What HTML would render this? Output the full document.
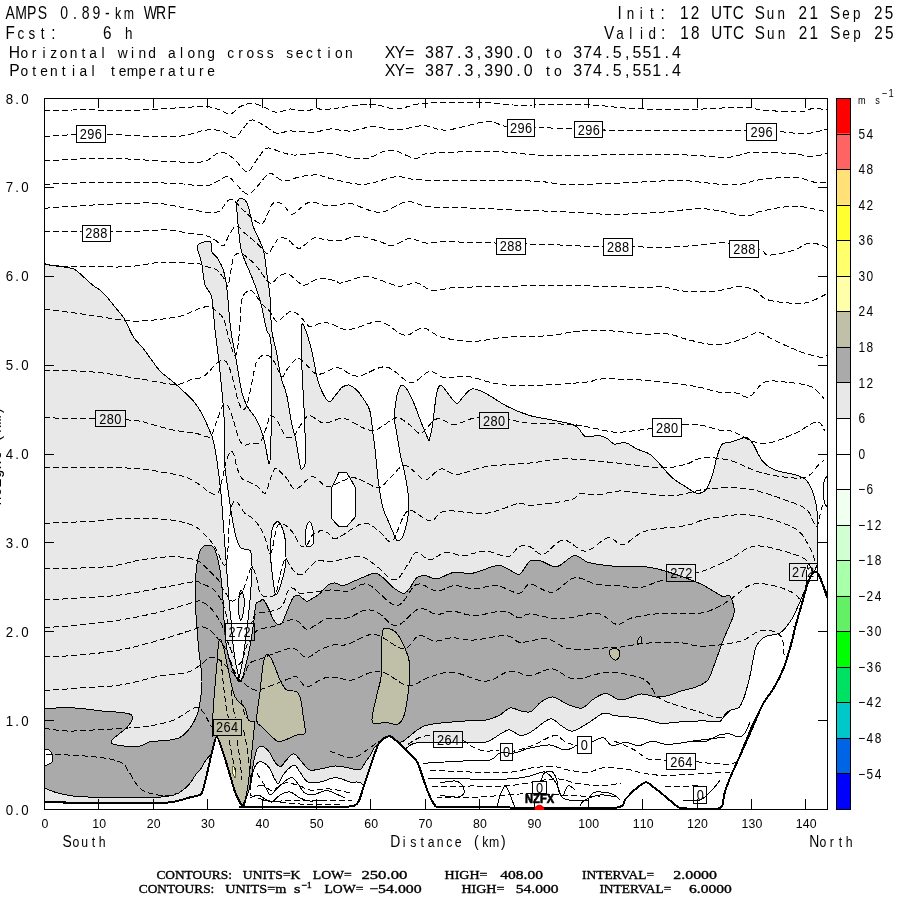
<!DOCTYPE html><html><head><meta charset="utf-8"><title>AMPS 0.89-km WRF cross section</title>
<style>html,body{margin:0;padding:0;background:#fff;}svg{display:block;}.m{font-family:"Liberation Mono",monospace;fill:#000;}.t{font-family:"Liberation Sans",sans-serif;fill:#000;}.w{stroke:#fff;stroke-width:0.45px;}.s{font-family:"Liberation Serif",serif;fill:#000;stroke:#000;stroke-width:0.35px;}</style></head><body>
<svg width="900" height="900" viewBox="0 0 900 900">
<rect width="900" height="900" fill="#fff"/>
<defs><clipPath id="pc"><rect x="44" y="98" width="784" height="711"/></clipPath>
<mask id="lm" maskUnits="userSpaceOnUse" x="0" y="0" width="900" height="900"><rect width="900" height="900" fill="#fff"/>
<rect x="76" y="125" width="29.7" height="17.5" fill="#000"/>
<rect x="506.7" y="119" width="28.6" height="17.7" fill="#000"/>
<rect x="574.3" y="120.7" width="29" height="17.6" fill="#000"/>
<rect x="746.4" y="122.6" width="30.3" height="17.9" fill="#000"/>
<rect x="81.7" y="225" width="29" height="16.7" fill="#000"/>
<rect x="496" y="237.7" width="29.7" height="17.3" fill="#000"/>
<rect x="603.3" y="238.3" width="29.4" height="17.7" fill="#000"/>
<rect x="729.3" y="240" width="30" height="18.3" fill="#000"/>
<rect x="95.1" y="410" width="30.5" height="17.3" fill="#000"/>
<rect x="479.3" y="411.6" width="29.6" height="17.7" fill="#000"/>
<rect x="652.2" y="418.4" width="29.6" height="18.3" fill="#000"/>
<rect x="224.7" y="623.3" width="29.8" height="17.9" fill="#000"/>
<rect x="666.2" y="564" width="30" height="18.2" fill="#000"/>
<rect x="788.7" y="563.3" width="28.9" height="17.8" fill="#000"/>
<rect x="212.5" y="718.5" width="29.2" height="17.5" fill="#000"/>
<rect x="433.3" y="730.7" width="29.4" height="17.5" fill="#000"/>
<rect x="666.2" y="752.7" width="30" height="17.3" fill="#000"/>
<rect x="500" y="742.7" width="13.3" height="18" fill="#000"/>
<rect x="576.7" y="736.2" width="15.1" height="18.2" fill="#000"/>
<rect x="532.2" y="781" width="14.5" height="13.4" fill="#000"/>
<rect x="693.3" y="786.2" width="14" height="18.2" fill="#000"/>
</mask></defs>
<g transform="scale(0.78,1)"><text class="t" x="13.08 26.90 40.72 54.54" y="19" font-size="18" text-anchor="middle">AMPS</text><text class="t" x="82.18 96.00 109.82 123.64 137.46 151.28 165.10" y="19" font-size="18" text-anchor="middle"><tspan font-size="18">0.89-</tspan><tspan font-size="15.8">km</tspan></text><text class="t" x="192.74 206.56 220.38" y="19" font-size="18" text-anchor="middle">WRF</text></g>
<g transform="scale(0.85,1)"><text class="t" x="12.00 24.68 37.36 50.05 62.73" y="39" font-size="18" text-anchor="middle"><tspan font-size="18">F</tspan><tspan font-size="15.8">cst</tspan><tspan font-size="18">:</tspan></text><text class="t" x="126.14" y="39" font-size="18" text-anchor="middle">6</text><text class="t" x="151.51" y="39" font-size="18" text-anchor="middle"><tspan font-size="15.8">h</tspan></text></g>
<g transform="scale(0.9,1)"><text class="t" x="16.11 27.03 37.96 48.88 59.80 70.72 81.64 92.57 103.49 114.41" y="58.3" font-size="17.4" text-anchor="middle"><tspan font-size="17.4">H</tspan><tspan font-size="15.3">orizontal</tspan></text><text class="t" x="136.26 147.18 158.10 169.02" y="58.3" font-size="17.4" text-anchor="middle"><tspan font-size="15.3">wind</tspan></text><text class="t" x="190.87 201.79 212.71 223.63 234.56" y="58.3" font-size="17.4" text-anchor="middle"><tspan font-size="15.3">along</tspan></text><text class="t" x="256.40 267.32 278.24 289.17 300.09" y="58.3" font-size="17.4" text-anchor="middle"><tspan font-size="15.3">cross</tspan></text><text class="t" x="321.93 332.86 343.78 354.70 365.62 376.54 387.47" y="58.3" font-size="17.4" text-anchor="middle"><tspan font-size="15.3">section</tspan></text></g>
<g transform="scale(0.9,1)"><text class="t" x="16.11 27.03 37.96 48.88 59.80 70.72 81.64 92.57 103.49" y="76.3" font-size="17.4" text-anchor="middle"><tspan font-size="17.4">P</tspan><tspan font-size="15.3">otential</tspan></text><text class="t" x="125.33 136.26 147.18 158.10 169.02 179.94 190.87 201.79 212.71 223.63 234.56" y="76.3" font-size="17.4" text-anchor="middle"><tspan font-size="15.3">temperature</tspan></text></g>
<g transform="scale(0.92,1)"><text class="t" x="423.91 434.65 445.39" y="58.3" font-size="17.4" text-anchor="middle">XY=</text><text class="t" x="466.87 477.61 488.35 499.09 509.83 520.57 531.30 542.04 552.78 563.52 574.26" y="58.3" font-size="17.4" text-anchor="middle">387.3,390.0</text><text class="t" x="595.74 606.48" y="58.3" font-size="17.4" text-anchor="middle"><tspan font-size="15.3">to</tspan></text><text class="t" x="627.96 638.70 649.43 660.17 670.91 681.65 692.39 703.13 713.87 724.61 735.35" y="58.3" font-size="17.4" text-anchor="middle">374.5,551.4</text></g>
<g transform="scale(0.92,1)"><text class="t" x="423.91 434.65 445.39" y="76.3" font-size="17.4" text-anchor="middle">XY=</text><text class="t" x="466.87 477.61 488.35 499.09 509.83 520.57 531.30 542.04 552.78 563.52 574.26" y="76.3" font-size="17.4" text-anchor="middle">387.3,390.0</text><text class="t" x="595.74 606.48" y="76.3" font-size="17.4" text-anchor="middle"><tspan font-size="15.3">to</tspan></text><text class="t" x="627.96 638.70 649.43 660.17 670.91 681.65 692.39 703.13 713.87 724.61 735.35" y="76.3" font-size="17.4" text-anchor="middle">374.5,551.4</text></g>
<g transform="scale(0.85,1)"><text class="t" x="728.94 741.62 754.31 766.99 779.67" y="19" font-size="18" text-anchor="middle"><tspan font-size="18">I</tspan><tspan font-size="15.8">nit</tspan><tspan font-size="18">:</tspan></text><text class="t" x="805.04 817.72" y="19" font-size="18" text-anchor="middle">12</text><text class="t" x="843.08 855.76 868.45" y="19" font-size="18" text-anchor="middle">UTC</text><text class="t" x="893.81 906.49 919.18" y="19" font-size="18" text-anchor="middle"><tspan font-size="18">S</tspan><tspan font-size="15.8">un</tspan></text><text class="t" x="944.54 957.22" y="19" font-size="18" text-anchor="middle">21</text><text class="t" x="982.59 995.27 1007.95" y="19" font-size="18" text-anchor="middle"><tspan font-size="18">S</tspan><tspan font-size="15.8">ep</tspan></text><text class="t" x="1033.32 1046.00" y="19" font-size="18" text-anchor="middle">25</text></g>
<g transform="scale(0.85,1)"><text class="t" x="716.71 729.38 742.05 754.72 767.39 780.06" y="39" font-size="18" text-anchor="middle"><tspan font-size="18">V</tspan><tspan font-size="15.8">alid</tspan><tspan font-size="18">:</tspan></text><text class="t" x="805.40 818.07" y="39" font-size="18" text-anchor="middle">18</text><text class="t" x="843.41 856.08 868.75" y="39" font-size="18" text-anchor="middle">UTC</text><text class="t" x="894.09 906.76 919.44" y="39" font-size="18" text-anchor="middle"><tspan font-size="18">S</tspan><tspan font-size="15.8">un</tspan></text><text class="t" x="944.78 957.45" y="39" font-size="18" text-anchor="middle">21</text><text class="t" x="982.79 995.46 1008.13" y="39" font-size="18" text-anchor="middle"><tspan font-size="18">S</tspan><tspan font-size="15.8">ep</tspan></text><text class="t" x="1033.47 1046.14" y="39" font-size="18" text-anchor="middle">25</text></g>
<g clip-path="url(#pc)" shape-rendering="crispEdges">
<path d="M44 261 C44 261 42.6 263.3 46.7 264.4 C50.9 265.5 64.1 266.9 68.9 267.8 C73.7 268.7 71.5 267 75.6 270 C79.7 273 89.2 282.3 93.3 285.6 C97.4 288.9 97.8 288.1 100 290 C102.2 291.9 104.1 293.7 106.7 296.7 C109.3 299.7 112.6 304.1 115.6 307.8 C118.5 311.5 121.5 314.1 124.4 318.9 C127.4 323.7 130 331.5 133.3 336.7 C136.6 341.9 140 344.3 144.4 350 C148.8 355.7 155.2 365.7 160 371 C164.8 376.3 167.8 377 173.3 382 C178.9 387 188.5 395.6 193.3 401 C198.1 406.4 199.5 409.6 202.2 414.4 C204.9 419.2 207.5 425.6 209.3 430 C211.2 434.4 212 435.1 213.3 440.7 C214.6 446.2 216 454 217.3 463.3 C218.6 472.6 220.4 487.2 221.3 496.7 C222.2 506.1 222.2 509.4 223 520 C223.8 530.5 225 546.7 226 560 C227 573.3 228.2 590 229 600 C229.8 610 230.3 612.7 231 620 C231.7 627.3 232.2 637 233 644 C233.8 651 234.5 656.3 235.5 662 C236.5 667.7 239 678 239 678 C239 678 241 669.7 242 664 C243 658.3 244 651.3 245 644 C246 636.7 247.2 627.3 248 620 C248.8 612.7 249.3 608.3 250 600 C250.7 591.7 251.8 577.3 252 570 C252.2 562.7 251.8 559.2 251.5 556 C251.2 552.8 251.2 551.7 250 550.5 C248.8 549.3 245.7 549.6 244 549 C242.3 548.4 241.3 548.8 240 546.7 C238.7 544.7 237.3 541.7 236 536.7 C234.7 531.7 233.3 524.5 232 516.7 C230.7 508.9 229.2 498.9 228 490 C226.8 481.1 225.2 473.3 224.7 463.3 C224.1 453.3 225 440.1 224.7 430 C224.4 419.9 223.9 414.3 223 403 C222.1 391.7 220.3 374.2 219 362 C217.7 349.8 216.2 340.8 215 330 C213.8 319.2 213.4 304.5 211.7 297 C210 289.5 206.7 290.6 205 285 C203.3 279.4 202.9 269.4 201.7 263.3 C200.4 257.2 197.9 251.5 197.5 248.3 C197.1 245.1 197.8 245.1 199 244 C200.2 242.9 203 242 205 241.7 C207 241.4 209.7 240.3 210.8 242 C211.9 243.7 210.6 249 211.7 251.7 C212.8 254.4 215.6 255.2 217.5 258.3 C219.4 261.4 221.8 265.3 223.3 270 C224.8 274.7 225.4 276.7 226.7 286.7 C227.9 296.7 229.4 318.9 230.8 330 C232.2 341.1 233.2 342.7 235 353 C236.8 363.3 239.6 382.8 241.7 391.7 C243.8 400.6 245 402 247.5 406.7 C250 411.4 254.1 415 256.7 420 C259.3 425 261.4 429.8 263.3 436.7 C265.2 443.6 268.3 461.7 268.3 461.7 C268.3 461.7 269.9 469.7 270.5 453 C271.1 436.3 271.8 381.1 271.7 361.7 C271.6 342.3 270.8 342 270 336.7 C269.2 331.4 268.4 336.1 266.7 330 C265 323.9 262.5 308.9 260 300 C257.5 291.1 254.8 284.8 251.7 276.7 C248.6 268.6 243.9 260 241.7 251.7 C239.5 243.4 239.1 234.5 238.3 226.7 C237.5 218.9 236.8 209.4 236.7 205 C236.6 200.6 237.4 201.6 238 200.5 C238.6 199.4 238.8 198.8 240 198.7 C241.2 198.6 243.6 198.7 245 200 C246.4 201.3 246.9 202.2 248.3 206.7 C249.7 211.1 250.8 219.5 253.3 226.7 C255.8 233.9 261.1 242.2 263.3 250 C265.5 257.8 265.6 265.5 266.7 273.3 C267.8 281.1 269.2 287.2 270 296.7 C270.8 306.1 270.6 320.6 271.7 330 C272.8 339.4 275.2 345.2 276.7 353 C278.2 360.8 279.1 369.7 280.8 376.7 C282.5 383.7 284.9 387.2 286.7 395 C288.5 402.8 290.1 415.7 291.7 423.3 C293.2 430.9 294.6 433.5 296 440.7 C297.4 447.9 299.2 462.1 300.3 466.7 C301.4 471.3 302.5 468.1 302.5 468.1 C302.5 468.1 305 468.5 305.4 461 C305.8 453.5 305.2 436.8 304.7 423.3 C304.2 409.8 303.1 392.2 302.5 380 C301.9 367.8 301.4 358.3 301.2 350 C301 341.7 301.1 334.2 301.2 330 C301.3 325.8 301.3 325.6 301.8 324.9 C302.3 324.2 302.4 322.1 304 326 C305.6 329.9 308.8 339.2 311.1 348.2 C313.4 357.2 315.6 372.3 317.7 380 C319.8 387.7 321.5 390.8 323.4 394.4 C325.3 398 327.3 401.4 329.2 401.7 C331.1 401.9 333.4 397.7 335 395.9 C336.6 394.1 337.7 392.4 338.9 391 C340.1 389.6 340.6 388.2 342.2 387.2 C343.8 386.2 346.3 384.5 348.7 385 C351.1 385.5 354.4 388.1 356.7 390.1 C359 392.2 360.2 393.9 362.4 397.3 C364.6 400.7 368 404.8 369.7 410.3 C371.4 415.9 371.7 423.6 372.6 430.6 C373.6 437.6 374.4 443.8 375.4 452.2 C376.3 460.6 377.1 472 378.3 481.1 C379.5 490.2 381.1 500.6 382.7 507.1 C384.3 513.6 385.5 514.4 387.8 520 C390.1 525.6 396.7 541 396.7 541 C396.7 541 401.3 541.3 403.3 535.6 C405.3 529.9 408.5 516.3 408.9 506.7 C409.3 497.1 406.9 485.9 405.6 477.8 C404.3 469.7 402.5 465.3 401 457.8 C399.5 450.3 397.8 439.7 396.7 433 C395.6 426.3 394.4 422.4 394.2 417.6 C394 412.8 395.1 408.2 395.6 404.4 C396.1 400.6 396.2 398.1 397.1 395 C398 391.9 399.4 386.6 401 385.6 C402.6 384.6 404.5 385.8 406.7 388.9 C408.9 392 412 398.9 414.4 404.4 C416.8 409.9 418.6 415.9 421 422 C423.4 428.1 428.9 441 428.9 441 C428.9 441 430.9 434.6 432.2 426.7 C433.5 418.8 435.2 400.1 436.7 393.3 C438.2 386.5 439.1 385.6 441 385.6 C442.9 385.6 445.2 390.4 447.8 393.3 C450.4 396.2 454.1 402.7 456.7 403.3 C459.3 403.9 460.7 399.1 463.3 396.7 C465.9 394.3 468.5 389.5 472.2 388.9 C475.9 388.3 479.7 390.3 485.6 393.3 C491.5 396.3 500.4 403 507.8 406.7 C515.2 410.4 522.6 413.4 530 415.6 C537.4 417.8 545.2 418.5 552.2 420 C559.2 421.5 567.8 422.9 572.2 424.4 C576.7 425.9 576.7 426.8 578.9 428.9 C581.1 430.9 582.3 435.6 585.6 436.7 C588.9 437.8 595.2 435.2 598.9 435.6 C602.6 436 605.2 437.5 607.8 438.9 C610.4 440.3 611.4 443.4 614.4 444 C617.4 444.6 621.9 441.9 625.6 442.7 C629.3 443.5 632.6 446.9 636.7 448.9 C640.8 450.8 645.9 451.6 650 454.4 C654.1 457.2 657.4 461.7 661.1 465.6 C664.8 469.5 668.1 474.3 672.2 477.8 C676.3 481.3 681.5 484.1 685.6 486.7 C689.7 489.3 693.4 492.8 696.7 493.3 C700 493.9 703 492.9 705.6 490 C708.2 487.1 710.4 481 712.2 475.6 C714.1 470.2 715.2 462.8 716.7 457.8 C718.2 452.8 719.6 448.1 721.1 445.6 C722.6 443.1 724 443.3 725.6 442.7 C727.2 442.1 728.5 442.6 731 442 C733.5 441.4 737.8 439.7 740.4 438.9 C743 438.1 744.6 436.5 746.7 437.3 C748.8 438.1 750.3 439.7 752.9 443.6 C755.5 447.5 758.6 456.3 762.2 460.7 C765.8 465.1 769.1 467.6 774.7 470 C780.3 472.4 790.8 473.3 796 475 C801.2 476.7 803.3 477.5 806 480 C808.7 482.5 810.3 486 812 490 C813.7 494 815.1 499 816 504 C816.9 509 817.3 510 817.6 520 C817.9 530 817.6 564 817.6 564 C817.6 564 815.5 569 813.6 572.5 C811.7 576 807.3 545.1 806 585 C804.7 624.9 806 812 806 812 C806 812 44 812 44 812 C44 812 44 261 44 261 Z" fill="#e8e8e8" stroke="#000" stroke-width="1"/>
<path d="M44 708.7 C44 708.7 62.3 707.4 72 707.8 C81.7 708.2 93.3 710.1 102.2 711 C111.1 711.9 120.3 712 125.3 713 C130.3 714 132.1 714.3 132.4 716.7 C132.7 719.1 130.7 723.1 127.1 727.3 C123.5 731.4 111.7 738.5 111.1 741.6 C110.5 744.7 118.8 745.3 123.6 746 C128.3 746.7 135.2 746.7 139.6 746 C144 745.3 146.1 742.5 150.2 741.6 C154.3 740.7 159.7 741.3 164.4 740.7 C169.2 740.1 174.8 739.6 178.7 738 C182.6 736.4 184.9 734 187.6 731 C190.3 728 192.8 724.1 194.7 720.2 C196.6 716.3 197.9 714.3 199.1 707.8 C200.3 701.3 202.1 691.4 202 681 C201.9 670.6 199.4 657.4 198.4 645.6 C197.4 633.8 196.2 621.9 195.8 610 C195.4 598.1 195.2 583.9 195.8 574.4 C196.4 564.9 198.1 557.6 199.3 553 C200.5 548.4 201.8 548.3 203 547 C204.2 545.7 204.6 544.9 206.4 545.1 C208.2 545.3 211.7 543.9 214 548 C216.3 552.1 218.5 561.3 220 570 C221.5 578.7 222.3 591.7 223 600 C223.7 608.3 223.7 614.7 224 620 C224.3 625.3 224.5 627 225 632 C225.5 637 225.8 644 227 650 C228.2 656 230.3 663.2 232 668 C233.7 672.8 235.7 676.7 237 679 C238.3 681.3 240 682 240 682 C240 682 241.8 679.7 243 676 C244.2 672.3 245.8 665.3 247 660 C248.2 654.7 249.3 650.7 250.5 644 C251.7 637.3 253.1 626.7 254 620 C254.9 613.3 255 607.1 256 604 C257 600.9 259 601.9 260.2 601.2 C261.4 600.5 262 598.6 263.3 599.6 C264.6 600.6 266.4 604.3 268 607.4 C269.6 610.5 271.1 615.4 272.7 618.3 C274.3 621.1 275.8 623.7 277.4 624.5 C278.9 625.3 280.4 625.1 282 623 C283.6 620.9 284.9 616.2 286.7 612 C288.5 607.8 291.1 600.8 292.9 598 C294.7 595.2 296 595 297.6 595 C299.2 595 300.7 597 302.3 598 C303.9 599 305.2 601.2 307 601.2 C308.8 601.2 311 599.3 313.2 598 C315.4 596.7 317.5 595.6 320 593.4 C322.5 591.2 325.5 586.7 328 585 C330.5 583.3 332.4 582.9 335 583 C337.6 583.1 339.7 586.1 343.3 585.6 C346.9 585.1 351.5 582 356.7 580 C361.9 578 370 573.7 374.4 573.3 C378.8 572.9 380.3 575.6 383.3 577.8 C386.3 580 388.9 584.1 392.2 586.7 C395.5 589.3 400.3 593.1 403.3 593.3 C406.3 593.5 407.8 590.4 410 587.8 C412.2 585.2 414.1 579.8 416.7 577.8 C419.3 575.8 422.3 575.4 425.6 575.6 C428.9 575.8 431.9 579.5 436.7 578.9 C441.5 578.3 448.5 573.1 454.4 572.2 C460.3 571.3 465.1 574.4 472.2 573.3 C479.2 572.2 490.8 566.3 496.7 565.6 C502.6 564.9 504.1 567.4 507.8 568.9 C511.5 570.4 515.9 574.8 518.9 574.4 C521.9 574 523.8 568.9 525.6 566.7 C527.5 564.5 527.4 562 530 561.1 C532.6 560.2 536.6 560.2 541.1 561.1 C545.6 562 551.2 567.6 556.7 566.7 C562.2 565.8 569.2 556.4 574.4 555.6 C579.6 554.9 582.2 560.5 587.8 562.2 C593.4 563.9 601.1 564.9 607.8 565.6 C614.5 566.4 621.5 566.5 627.8 566.7 C634.1 566.9 639.3 566 645.6 566.7 C651.9 567.4 657.1 568.5 665.6 571.1 C674.1 573.7 689.7 579.4 696.7 582.2 C703.7 585 704.1 585.8 707.8 587.8 C711.5 589.8 716.3 592.9 718.9 594.4 C721.5 595.9 721.8 596.5 723.3 596.7 C724.8 596.9 726.5 595.5 727.8 595.6 C729.1 595.8 729.9 594.9 731 597.6 C732.1 600.3 734.4 607.1 734.2 611.6 C734 616.1 731.8 619.7 730 624.4 C728.2 629.1 725.9 633.3 723.3 640 C720.7 646.7 717 657.7 714.4 664.4 C711.8 671.1 710.8 676.3 707.8 680 C704.8 683.7 701.2 684.9 696.7 686.7 C692.2 688.6 685.9 689.6 681.1 691.1 C676.3 692.6 672 694.6 667.8 695.6 C663.6 696.6 660.5 697.3 656 697 C651.5 696.7 646.8 693.5 641 694 C635.2 694.5 626.8 700.1 621 700 C615.2 699.9 610.7 693.6 606 693.5 C601.3 693.4 597 697.1 593 699.5 C589 701.9 586.2 707.2 582 708 C577.8 708.8 572.8 706.3 568 704.5 C563.2 702.7 557.5 697.4 553 697 C548.5 696.6 544.7 699.6 541 702 C537.3 704.4 534.3 710 531 711.5 C527.7 713 524.5 711.6 521 711 C517.5 710.4 513.7 707.2 510 708 C506.3 708.8 503 713.6 498.9 715.6 C494.8 717.6 491.5 719.1 485.6 720 C479.7 720.9 472.6 720.4 463.3 721.1 C454 721.8 437.4 723.1 430 724.4 C422.6 725.7 421.5 727.6 418.9 728.9 C416.3 730.2 417 730.2 414.4 732.2 C411.8 734.2 406.4 739 403.3 741.1 C400.2 743.2 397.9 741.9 396 745 C394.1 748.1 394.3 757.5 392 760 C389.7 762.5 384.6 762.4 382 760 C379.4 757.6 378.7 746.3 376.7 745.6 C374.7 744.9 371.8 753.2 370 755.9 C368.2 758.6 367.4 759.4 365.7 761.7 C364 764 362.5 768.5 359.9 769.6 C357.2 770.7 353.9 768.8 349.8 768.2 C345.7 767.6 340.2 765.9 335.4 766 C330.6 766.1 325 768.2 320.9 768.9 C316.8 769.6 313.2 770.5 310.8 770.3 C308.4 770.1 308.4 769.4 306.5 767.5 C304.6 765.6 301.4 761.1 299.2 758.8 C297 756.5 295.7 753.5 293.5 753.7 C291.3 753.9 288.4 758 286.2 760.2 C284 762.4 282.4 766.5 280.5 766.7 C278.6 767 276.6 764.2 274.7 761.7 C272.8 759.2 270.9 754.1 268.9 751.6 C266.8 749.1 264.3 747 262.4 746.5 C260.5 746 258.7 746.5 257.3 748.7 C255.9 751 255.1 754.8 254 760 C252.9 765.2 252.2 773.3 251 780 C249.8 786.7 248.2 795.7 247 800 C245.8 804.3 244 806 244 806 C244 806 234.7 788.7 230 778 C225.3 767.3 219.1 746.1 216 742 C212.9 737.9 213.4 750.3 211.7 753.3 C210 756.3 207.9 757.2 206 760 C204.1 762.8 201.6 767.7 200 770 C198.4 772.3 198.2 771.2 196.4 773.6 C194.6 776 192.2 781 189.3 784.2 C186.4 787.4 182.2 791 178.7 793 C175.1 795 173.3 795.5 168 796.3 C162.7 797.1 156.2 797.4 146.7 797.6 C137.2 797.8 122.8 797.8 111 797.6 C99.2 797.4 84.5 797.1 75.6 796.3 C66.7 795.5 63.1 794.4 57.8 793 C52.5 791.6 44 787.8 44 787.8 C44 787.8 44 708.7 44 708.7 Z" fill="#aaaaaa" stroke="#000" stroke-width="1"/>
<path d="M219.2 640 C218.1 643.3 217.7 655.4 216.7 666.7 C215.7 678 214 696.3 213.3 708 C212.6 719.7 212.5 736.7 212.5 736.7 C212.5 736.7 214.9 733.9 216.7 736.7 C218.5 739.5 221.1 746.9 223.3 753.3 C225.5 759.7 228.1 768.6 230 775 C231.9 781.4 233.1 786.7 235 791.7 C236.9 796.7 241.7 805 241.7 805 C241.7 805 243.9 803.7 245 800 C246.1 796.3 247.2 790.8 248.3 783 C249.4 775.2 250.7 762.2 251.7 753 C252.7 743.8 253.8 733.2 254.2 728 C254.6 722.8 255.2 723 254.2 721.7 C253.2 720.4 249.8 722.3 248.3 720 C246.8 717.7 247.2 711.9 245 708 C242.8 704.1 237.8 703 235 696.7 C232.2 690.4 230.2 678.3 228.3 670 C226.4 661.7 224.8 651.7 223.3 646.7 C221.8 641.7 220.3 636.7 219.2 640 Z" fill="#c0c0a8" stroke="#000" stroke-width="1"/>
<path d="M267.5 654 C265.8 654 264.6 656.7 263.3 663 C262.1 669.3 261.1 682.2 260 691.7 C258.9 701.2 256.4 714.2 256.7 720 C257 725.8 258.9 723.7 261.7 726.7 C264.5 729.7 270.5 735.5 273.3 738 C276.1 740.5 276.4 741.4 278.3 741.7 C280.2 742 281.9 741.1 285 740 C288.1 738.9 293.4 736.2 296.7 735 C300 733.8 303.9 736.3 305 733 C306.1 729.7 303.7 720.5 303 715 C302.3 709.5 301.9 703.9 300.8 700 C299.8 696.1 299.1 693.4 296.7 691.7 C294.3 690 289.5 692 286.7 690 C283.9 688 282.2 684.5 280 680 C277.8 675.5 275.4 667.3 273.3 663 C271.2 658.7 269.2 654 267.5 654 Z" fill="#c0c0a8" stroke="#000" stroke-width="1"/>
<path d="M386.7 628.9 C384.7 629.3 383 625.9 382.2 633.3 C381.4 640.7 382.5 662.9 381.6 673.3 C380.7 683.7 378.3 687.5 376.7 695.6 C375.1 703.8 370.7 717.8 372.2 722.2 C373.7 726.6 381.5 721.8 385.6 722.2 C389.7 722.6 393.8 725.1 396.7 724.4 C399.6 723.7 401.4 722.6 403.3 717.8 C405.2 713 406.7 703.8 407.8 695.6 C408.9 687.5 410 675.6 410 668.9 C410 662.2 409.3 660.4 407.8 655.6 C406.3 650.8 403.2 644.1 401 640 C398.8 635.9 396.8 633 394.4 631.1 C392 629.2 388.7 628.5 386.7 628.9 Z" fill="#c0c0a8" stroke="#000" stroke-width="1"/>
<path d="M612 649 C613.5 648.6 616.7 648.8 618 649.5 C619.3 650.2 619.9 651.6 620 653 C620.1 654.4 619.3 656.8 618.5 658 C617.7 659.2 616.2 660.2 615 660 C613.8 659.8 612 658.3 611 657 C610 655.7 608.8 653.3 609 652 C609.2 650.7 610.5 649.4 612 649 Z" fill="#c0c0a8" stroke="#000" stroke-width="1"/>
<path d="M637 643 C636.8 641.9 639.8 636.5 640.5 636.5 C641.2 636.5 642.1 641.9 641.5 643 C640.9 644.1 637.2 644.1 637 643 Z" fill="#c0c0a8" stroke="#000" stroke-width="1"/>
<path d="M233 766 C233.5 766 234.6 768 235 770 C235.4 772 235.8 777.2 235.5 778 C235.2 778.8 234.1 776.3 233.5 775 C232.9 773.7 232.1 771.5 232 770 C231.9 768.5 232.5 766 233 766 Z" fill="#ffffaa" stroke="#000" stroke-width="0.6"/>
<path d="M276.6 521.8 C275.4 522.5 273.5 525 272.5 528 C271.5 531 271.2 535.6 270.8 540 C270.4 544.4 270.3 550 270.4 554.5 C270.5 559 271.1 563.1 271.5 567 C271.9 570.9 272.2 574 272.7 577.8 C273.2 581.6 274 587.1 274.5 590 C275 592.9 275.1 595 275.8 595 C276.5 595 277.9 592.5 278.9 590.3 C279.8 588.1 280.7 584.6 281.5 582 C282.3 579.4 282.9 578 283.6 574.7 C284.3 571.4 285.5 566.4 285.9 562.3 C286.3 558.2 285.9 553.9 285.8 550 C285.7 546.1 285.6 542.2 285.1 538.9 C284.6 535.6 283.9 532.6 283 530 C282.1 527.4 281.1 524.9 280 523.5 C278.9 522.1 277.9 521 276.6 521.8 Z" fill="#fff" stroke="#000" stroke-width="1"/>
<path d="M309.7 521.8 C308.9 521.6 307.7 522.8 307 525 C306.3 527.2 305.6 531.7 305.4 535 C305.2 538.3 305.4 543 306 545 C306.6 547 307.8 546.9 309 546.7 C310.2 546.5 312.2 546 313 544 C313.8 542 314.1 538 313.9 535 C313.7 532 312.7 528.2 312 526 C311.3 523.8 310.5 522 309.7 521.8 Z" fill="#fff" stroke="#000" stroke-width="1"/>
<path d="M339 472.5 C339 472.5 346.7 472.5 346.7 472.5 C346.7 472.5 355.6 487.8 355.6 487.8 C355.6 487.8 355.6 516.5 355.6 516.5 C355.6 516.5 346.7 526.7 346.7 526.7 C346.7 526.7 339 526.7 339 526.7 C339 526.7 331.8 518.9 331.8 518.9 C331.8 518.9 331.8 487.8 331.8 487.8 C331.8 487.8 339 472.5 339 472.5 Z" fill="#fff" stroke="#000" stroke-width="1"/>
<path d="M244 806 C244 806 245.9 799.5 247 796 C248.1 792.5 249.5 789 250.5 785 C251.5 781 252 775.5 253 772 C254 768.5 255.1 765.7 256.5 764 C257.9 762.3 259.6 761.1 261.7 761.7 C263.8 762.3 266.7 764.6 268.9 767.5 C271.1 770.4 273.1 776.4 274.7 779 C276.3 781.6 276.9 784.1 278.3 783.4 C279.8 782.7 281.6 777.2 283.4 774.7 C285.2 772.2 287.2 769.8 289.1 768.2 C291 766.6 293 764.5 294.9 765.3 C296.8 766.1 298.5 770.4 300.7 773.2 C302.9 776 304.5 780.5 307.9 781.9 C311.3 783.3 316.3 782.6 320.9 781.9 C325.5 781.2 330.6 777.6 335.4 777.6 C340.2 777.6 345.2 780.7 349.8 781.9 C354.4 783.1 360.1 779.8 362.8 784.8 C365.5 789.8 366 812 366 812 C366 812 244 812 244 812 C244 812 244 806 244 806 Z" fill="#fff" stroke="#000" stroke-width="1"/>
<path d="M405.6 748.9 C405.6 748.9 410.3 744.4 414.4 743.3 C418.5 742.2 421.9 742.4 430 742.2 C438.1 742 454 742.2 463.3 742.2 C472.6 742.2 478.9 743.9 485.6 742.2 C492.3 740.5 499.2 734.2 503.3 732.2 C507.4 730.2 507 729.4 510 730 C513 730.6 517.4 735.4 521.1 735.6 C524.8 735.8 527.4 733.9 532.2 731.1 C537 728.3 545.2 719.8 550 718.9 C554.8 718 557.4 723.6 561.1 725.6 C564.8 727.6 567.8 731.5 572.2 731.1 C576.7 730.7 582.6 726.3 587.8 723.3 C593 720.3 598.9 714.6 603.3 713.3 C607.7 712 610.7 715 614.4 715.6 C618.1 716.2 620.8 716.2 625.6 716.7 C630.4 717.2 637.4 717.8 643.3 718.9 C649.2 720 655.5 722.8 661.1 723.3 C666.7 723.8 671.2 722.6 676.7 722.2 C682.2 721.8 688.9 721.3 694.4 721.1 C699.9 720.9 705.9 721 710 721.1 C714.1 721.2 717 722.2 719.2 721.7 C721.4 721.2 721.1 719.8 723 717.8 C724.9 715.8 728.1 711.7 730.8 710 C733.4 708.3 736.7 709.9 738.9 707.7 C741.1 705.5 742.4 702 744.2 697 C746 692 748.1 683.6 749.6 677.4 C751.1 671.2 751.9 664.9 753.1 659.6 C754.3 654.3 754.6 649.2 756.7 645.4 C758.8 641.5 761.8 638.6 765.6 636.5 C769.5 634.4 775.6 635.6 779.8 633 C784 630.4 787.4 625.8 790.6 621 C793.8 616.2 796.4 609.9 798.9 604.4 C801.4 598.9 803.9 592 805.8 587.8 C807.6 583.6 808.4 582.1 810 579.4 C811.6 576.7 814 572.2 815.6 571.7 C817.2 571.2 817.6 572.7 819.7 576.7 C821.8 580.8 828 596 828 596 C828 596 828 812 828 812 C828 812 405 812 405 812 C405 812 405.6 748.9 405.6 748.9 Z" fill="#fff" stroke="#000" stroke-width="1"/>
<path d="M44 750 C44 750 47.6 749.2 49 750 C50.4 750.8 51.9 753 52.4 755 C52.9 757 52.9 760.3 52 762 C51.1 763.7 48.3 764.5 47 765 C45.7 765.5 44 765 44 765 C44 765 44 750 44 750 Z" fill="#fff" stroke="#000" stroke-width="1"/>
<path d="M241 590 C241.8 590 243.6 594.3 244 598 C244.4 601.7 244.1 608.3 243.5 612 C242.9 615.7 241.3 620.3 240.5 620 C239.7 619.7 238.8 613.7 238.5 610 C238.2 606.3 238.6 601.3 239 598 C239.4 594.7 240.2 590 241 590 Z" fill="#e8e8e8" stroke="#000" stroke-width="1"/>
<path d="M827.5 476 C827.5 476 825.2 477.5 824.5 480 C823.8 482.5 823.5 487.2 823.5 491 C823.5 494.8 823.8 500.3 824.5 503 C825.2 505.7 827.5 507 827.5 507" fill="none" stroke="#000" stroke-width="1"/>
<path d="M497 807 C497 807 498.7 799.5 500 796 C501.3 792.5 503.5 786.7 505 786 C506.5 785.3 507.8 789.7 509 792 C510.2 794.3 511 797.5 512 800 C513 802.5 515 807 515 807" fill="none" stroke="#000" stroke-width="1"/>
<path d="M440 783 C440 783 451.3 780.7 455 781 C458.7 781.3 460.5 783 462 785 C463.5 787 464.7 791 464 793 C463.3 795 461.2 796.5 458 797 C454.8 797.5 448 796.3 445 796 C442 795.7 440 795 440 795" fill="none" stroke="#000" stroke-width="1"/>
<path d="M690 741 C690 741 700.2 742.6 705 741.6 C709.8 740.6 714.9 736.3 719 735 C723.1 733.7 726.4 733.7 729.7 734 C733 734.3 736.4 737.2 738.9 737 C741.4 736.8 743.1 735.5 745 733 C746.9 730.5 750 722 750 722" fill="none" stroke="#000" stroke-width="1"/>
<path d="M724 792 C724 792 728.2 782.7 731 776 C733.8 769.3 737.5 760.3 741 752 C744.5 743.7 748.5 733 751.7 726 C754.9 719 757 715.3 760 710 C763 704.7 767.2 697.7 770 694 C772.8 690.3 776.7 688 776.7 688" fill="none" stroke="#000" stroke-width="1"/>
<path d="M257.3 786.2 C257.3 786.2 262.4 784.8 264.6 786.2 C266.8 787.7 268.1 794.6 270.3 794.9 C272.5 795.1 274.2 790.6 277.6 787.7 C281 784.8 287.2 778.3 290.6 777.6 C294 776.9 295.6 781 297.8 783.4 C300 785.8 301.2 790.1 303.6 792 C306 793.9 308.5 795.1 312.3 794.9 C316.1 794.7 322.4 790.6 326.7 790.6 C331 790.6 335.2 793.7 338.3 794.9 C341.4 796.1 345 798 345 798" fill="none" stroke="#000" stroke-width="1"/>
<path d="M250 798 C250 798 255.5 794.8 258 795 C260.5 795.2 262.7 797.8 265 799 C267.3 800.2 269.5 802.7 272 802 C274.5 801.3 277 796.7 280 795 C283 793.3 286.7 791.5 290 792 C293.3 792.5 296.7 796.5 300 798 C303.3 799.5 305.8 800.7 310 801 C314.2 801.3 325 800 325 800" fill="none" stroke="#000" stroke-width="1"/>
<path d="M423.3 763.3 C423.3 763.3 452.2 761.5 463.3 761 C474.4 760.5 483.9 761.3 490 760 C496.1 758.7 496 754.2 500 753 C504 751.8 509 753.8 514 753 C519 752.2 524 749.3 530 748 C536 746.7 544.2 744.7 550 745 C555.8 745.3 560.5 750 565 750 C569.5 750 577 745 577 745" fill="none" stroke="#000" stroke-width="1"/>
<path d="M592 742.2 C592 742.2 599.9 737.2 603.3 737.8 C606.7 738.4 608.5 744.9 612.2 745.6 C615.9 746.3 621.2 742.2 625.6 742.2 C630 742.2 634.5 745.8 638.9 745.6 C643.3 745.4 647.8 741.3 652.2 741.1 C656.7 740.9 661.2 744 665.6 744.4 C670 744.8 674.5 743.8 678.9 743.3 C683.3 742.8 687 741.8 692.2 741.1 C697.4 740.4 704.5 739.6 710 738.9 C715.5 738.2 725 737 725 737" fill="none" stroke="#000" stroke-width="1"/>
<path d="M428 778.9 C428 778.9 456.3 779 470 779 C483.7 779 500 779.4 510 778.9 C520 778.4 524.2 777.1 530 776 C535.8 774.9 540.7 770.8 545 772 C549.3 773.2 553.2 779 556 783 C558.8 787 560 795.5 562 796 C564 796.5 565.8 787 568 786 C570.2 785 575 790 575 790" fill="none" stroke="#000" stroke-width="1"/>
<path d="M541.3 781.3 C541.3 781.3 542.7 775 544 773.3 C545.3 771.6 547.8 771.4 549.3 771.3 C550.8 771.2 552.1 771.2 553.3 772.7 C554.5 774.2 555.8 777 556.7 780 C557.6 783 557.7 787.7 558.7 790.7 C559.7 793.7 560.9 796.5 562.7 798 C564.5 799.5 566.4 799.7 569.3 800 C572.2 800.3 576.9 800 580 800 C583.1 800 588 800 588 800" fill="none" stroke="#000" stroke-width="1"/>
<path d="M588 800 C588 800 591.1 794 593.3 792.7 C595.5 791.4 598.4 791.9 601.3 792 C604.2 792.1 608 792.4 610.7 793.3 C613.4 794.2 615.8 796.2 617.3 797.3 C618.8 798.4 620 800 620 800" fill="none" stroke="#000" stroke-width="1"/>
<path d="M580 806 C580 806 581.7 801.8 585 800 C588.3 798.2 595 795.5 600 795 C605 794.5 615 797 615 797" fill="none" stroke="#000" stroke-width="1"/>
<path d="M683 800 C683 800 695.2 801.7 700 800 C704.8 798.3 708.7 793.3 712 790 C715.3 786.7 720 780 720 780" fill="none" stroke="#000" stroke-width="1"/>
<g mask="url(#lm)" fill="none" stroke="#000" stroke-width="1" stroke-dasharray="6 3">
<path d="M44 111 C44 111 57.3 110.2 73.3 110 C89.3 109.8 122.2 110.4 140 110 C157.8 109.6 168.9 108.2 180 107.7 C191.1 107.2 200 106.3 206.7 106.7 C213.4 107.1 216.1 108.7 220 110 C223.9 111.3 226.7 114.8 230 114.3 C233.3 113.8 236.4 108.5 240 106.7 C243.6 104.9 247.8 103.3 251.7 103.3 C255.6 103.3 259.1 105.2 263.3 106.7 C267.5 108.2 272.2 111.9 276.7 112.3 C281.1 112.7 285.6 109.2 290 109 C294.4 108.8 298.9 111 303.3 111 C307.8 111 312.2 109.3 316.7 109 C321.1 108.7 321.1 109.8 330 109 C338.9 108.2 358.9 104.3 370 104.3 C381.1 104.3 387.8 109.2 396.7 109 C405.6 108.8 409.4 104.4 423.3 103.3 C437.2 102.2 465 102 480 102.3 C495 102.6 504.1 104.5 513.3 105 C522.5 105.5 522.2 105 535 105 C547.8 105 574.2 104.5 590 105 C605.8 105.5 614.5 107.5 630 108.3 C645.5 109.1 664.2 109.9 683.3 109.7 C702.4 109.5 731.5 107.1 744.5 107.2 C757.5 107.3 752.2 109.5 761.6 110.2 C771 110.9 792.2 111.9 800.7 111.6 C809.2 111.3 808.4 108.7 812.9 108.4 C817.4 108.1 828 110 828 110"/>
<path d="M44 136.7 C44 136.7 65.5 134.9 76 134.5 C86.5 134.1 90.5 133.9 106.7 134.3 C122.9 134.7 156.6 137.4 173.3 136.7 C190 136 198.4 130.8 206.7 130 C215 129.2 218.6 130.4 223.3 131.7 C228 133 231.7 138.3 235 137.7 C238.3 137.1 240.5 131.2 243.3 128.3 C246.1 125.4 248.4 120.5 251.7 120 C255 119.5 259.1 122.8 263.3 125 C267.5 127.2 272.2 132.3 276.7 133.3 C281.1 134.3 283.9 131.2 290 131 C296.1 130.8 306.6 132.6 313.3 132.3 C320 132 323.9 129.2 330 129 C336.1 128.8 342.8 131.4 350 131 C357.2 130.6 365.5 126.9 373.3 126.7 C381.1 126.5 388.4 130.2 396.7 130 C405 129.8 415 125.7 423.3 125.7 C431.6 125.7 436.1 130.7 446.7 130 C457.3 129.3 476.7 122.3 486.7 121.7 C496.7 121.1 498.6 125.5 506.7 126.5 C514.8 127.5 529.2 127.5 535.3 127.7 C541.4 127.9 536.8 127.5 543.3 127.7 C549.8 127.9 564.3 128.7 574.3 129 C584.3 129.3 597.3 129.2 603.3 129.5 C609.2 129.8 586.5 130.3 610 130.5 C633.5 130.7 716.7 130.3 744.5 130.5 C772.3 130.7 770.6 131.3 776.7 131.5 C782.8 131.7 776.3 131.3 781.1 131.7 C785.9 132 797.8 134 805.6 133.6 C813.4 133.2 828 129 828 129"/>
<path d="M44 161 C44 161 85.2 158.2 106.7 158.3 C128.2 158.4 157.2 161.1 173.3 161.7 C189.4 162.3 195.5 163.3 203.3 161.7 C211.1 160.1 215 152.9 220 152.3 C225 151.7 228.9 155.1 233.3 158.3 C237.8 161.5 242.8 171.4 246.7 171.7 C250.6 172 253.4 163.9 256.7 160 C260 156.1 262.8 149.7 266.7 148.3 C270.6 146.9 275.6 150.6 280 151.7 C284.4 152.8 287.8 154.7 293.3 155 C298.9 155.3 307.2 153.6 313.3 153.3 C319.4 153 321.7 152.4 330 153.3 C338.3 154.2 353.3 159.6 363.3 159 C373.3 158.4 381.4 150.1 390 150 C398.6 149.9 408.3 157.8 415 158.3 C421.7 158.9 416.4 154.4 430 153.3 C443.6 152.2 477.2 151.3 496.7 151.7 C516.1 152.1 527.8 155.2 546.7 155.7 C565.6 156.2 587.2 155 610 154.9 C632.8 154.8 663.7 154.5 683.3 154.9 C702.9 155.3 716 157.7 727.4 157.3 C738.8 156.9 740.8 153.1 751.8 152.5 C762.8 151.9 783.6 153 793.4 153.7 C803.2 154.4 804.7 156.7 810.5 156.6 C816.3 156.5 828 153.2 828 153.2"/>
<path d="M44 184.3 C44 184.3 85.2 182.5 106.7 182.3 C128.2 182.1 156.6 182.7 173.3 183.3 C190 183.9 197.8 186.8 206.7 185.7 C215.6 184.6 221.7 176.8 226.7 176.7 C231.7 176.6 233.1 182.1 236.7 185 C240.3 187.9 244.4 194.6 248.3 194.3 C252.2 194 256.4 186.8 260 183.3 C263.6 179.8 266.1 173.7 270 173.3 C273.9 172.9 278.3 180.4 283.3 181 C288.3 181.6 294.4 177.7 300 176.7 C305.6 175.7 311.7 174.7 316.7 175 C321.7 175.3 322.2 176.8 330 178.3 C337.8 179.9 352.2 184.6 363.3 184.3 C374.4 184 386.7 177.4 396.7 176.7 C406.7 176 401.1 179.3 423.3 180 C445.5 180.7 506.7 180.3 530 181 C553.3 181.7 550 183.9 563.3 184.3 C576.6 184.7 596.1 183.9 610 183.5 C623.9 183.1 634.5 182.3 646.7 181.8 C658.9 181.3 669 180.1 683.3 180.6 C697.5 181.1 719.2 185.2 732.2 185 C745.2 184.8 751 180.6 761.6 179.4 C772.2 178.2 786.4 177 795.8 177.6 C805.2 178.2 812.4 182.4 817.8 183 C823.2 183.6 828 181 828 181"/>
<path d="M44 208.3 C44 208.3 87.9 205.1 106.7 204.3 C125.5 203.5 142.3 202.4 156.7 203.3 C171.1 204.2 184.4 208.5 193.3 210 C202.2 211.5 205.6 212.4 210 212.5 C214.4 212.6 217.2 212.6 220 210.8 C222.8 209 224.8 203.5 226.7 201.7 C228.6 199.8 230 199.4 231.7 199.7 C233.4 200 234.5 201.3 236.7 203.3 C238.9 205.3 241.7 208.6 245 211.7 C248.3 214.8 253.6 219.9 256.7 221.7 C259.8 223.5 260.8 225.3 263.3 222.5 C265.8 219.7 269.5 208.3 271.7 205 C273.9 201.7 274.8 202.5 276.7 202.5 C278.6 202.5 280.8 203.1 283.3 205 C285.8 206.9 289.2 213.4 291.7 214.2 C294.2 215 295.8 211.8 298.3 210 C300.8 208.2 303.9 204.6 306.7 203.3 C309.5 202.1 312.2 202.2 315 202.5 C317.8 202.8 319.1 204.6 323.3 205 C327.5 205.4 335.6 205.3 340 205 C344.4 204.7 343.3 202.1 350 203.3 C356.7 204.5 370.6 212.6 380 212.3 C389.4 212 398.4 202.6 406.7 201.7 C415 200.8 417.8 205.6 430 206.7 C442.2 207.8 466.1 207.8 480 208.3 C493.9 208.9 499.4 209.4 513.3 210 C527.2 210.6 547.2 211 563.3 211.7 C579.4 212.4 594.1 214.2 610 214.3 C625.9 214.4 644.2 213.3 658.9 212.4 C673.6 211.5 687.8 208.9 698 208.7 C708.2 208.5 711.9 209.9 720 211.1 C728.1 212.3 740 216 746.9 216 C753.8 216 753.5 212.7 761.6 211.1 C769.8 209.5 784.7 206 795.8 206.2 C806.9 206.4 828 212.4 828 212.4"/>
<path d="M44 231.7 C44 231.7 119.5 231.3 140 231 C160.4 230.7 158.4 229.6 166.7 230 C175 230.4 183.3 232.3 190 233.3 C196.7 234.3 202.5 234.7 206.7 235.8 C210.9 236.9 212.2 238.3 215 240 C217.8 241.7 221.1 246.4 223.3 245.8 C225.5 245.2 226.6 239.6 228.3 236.7 C230 233.8 231.6 230 233.3 228.3 C235 226.6 236.4 225.9 238.3 226.7 C240.2 227.5 241.9 230.5 245 233.3 C248.1 236.1 253.6 240.5 256.7 243.3 C259.8 246.1 261.4 248.3 263.3 250 C265.2 251.7 266.4 254.4 268.3 253.3 C270.2 252.2 273.1 245.9 275 243.3 C276.9 240.7 277.8 238.1 280 237.5 C282.2 236.9 285.2 238.2 288.3 240 C291.4 241.8 295.2 247.8 298.3 248.3 C301.4 248.9 303.9 245.1 306.7 243.3 C309.5 241.5 312.2 238.2 315 237.5 C317.8 236.8 319.1 238.6 323.3 239.2 C327.5 239.8 334.2 241.3 340 240.8 C345.8 240.3 351.1 236 357.8 236.2 C364.5 236.3 374.3 240.1 380 241.7 C385.7 243.3 387.6 246 392 245.6 C396.4 245.2 403.1 240.1 406.7 239 C410.3 237.9 410.6 238.6 413.8 239.3 C417.1 240 421 242.6 426.2 243 C431.4 243.4 433.5 241.8 444.9 241.8 C456.3 241.8 480.7 242.6 494.7 243 C508.7 243.4 518 243.7 528.9 244 C539.8 244.3 547.6 244.5 560 245 C572.4 245.5 590.9 246.7 603.3 247 C615.7 247.3 625.1 246.5 634.4 246.6 C643.7 246.7 648.7 248 658.9 247.8 C669.1 247.6 684.2 246.2 695.6 245.4 C707 244.6 716.7 242.2 727.4 243 C738.1 243.8 753.1 248 760 250 C766.9 252 763.3 255 768.9 255.1 C774.5 255.2 786.5 252.3 793.4 250.3 C800.3 248.3 804.7 243.3 810.5 242.9 C816.3 242.5 828 247.8 828 247.8"/>
<path d="M44 264.4 C44 264.4 60.3 266.3 68.9 266.7 C77.5 267.1 85.6 266.7 95.6 266.7 C105.6 266.7 117.8 267.4 128.9 266.7 C140 265.9 151.5 262.8 162.2 262.2 C172.9 261.6 187.3 263.1 193.3 263.3 C199.3 263.5 196.1 262.7 198.3 263.3 C200.5 263.9 203.6 265.6 206.7 266.7 C209.8 267.8 213.6 267.8 216.7 270 C219.8 272.2 223.1 277.5 225 280 C226.9 282.5 226.9 288.6 228.3 285 C229.7 281.4 231.4 263.6 233.3 258.3 C235.2 253 237.5 253.3 240 253.3 C242.5 253.3 245.5 256.1 248.3 258.3 C251.1 260.5 253.6 263.1 256.7 266.7 C259.8 270.3 264.2 277.2 266.7 280 C269.2 282.8 269.8 283.9 271.7 283.3 C273.6 282.8 276.4 278.2 278.3 276.7 C280.2 275.2 281.4 274.5 283.3 274.2 C285.2 273.9 286.7 273.2 290 275 C293.3 276.8 299.1 284.2 303.3 285 C307.5 285.8 311.4 281.1 315 280 C318.6 278.9 321.4 278 325 278.3 C328.6 278.6 333.8 280.9 336.7 281.7 C339.6 282.5 337.1 283.7 342.2 282.9 C347.3 282.1 357.8 276.2 367.1 276.7 C376.4 277.2 389.9 285 398.2 286 C406.5 287 411.2 282.1 416.9 282.9 C422.6 283.7 426.3 289.9 432.5 290.7 C438.7 291.5 443.3 288.3 454.2 287.6 C465.1 286.9 480.2 287 497.8 286.6 C515.4 286.2 535.8 285.3 560 285.4 C584.2 285.5 626.3 287.1 643.3 287.3 C660.3 287.5 655.2 286.1 662 286.7 C668.8 287.3 675 290.4 683.8 291.1 C692.6 291.8 705.6 291.8 714.9 291.1 C724.2 290.4 733 286.8 739.8 286.7 C746.5 286.6 750.7 288.2 755.4 290.4 C760.1 292.6 760.5 297.6 767.8 299.8 C775 302 791.1 303.5 798.9 303.5 C806.7 303.5 809.6 301.6 814.5 299.8 C819.4 298.1 828 293 828 293"/>
<path d="M44 308.9 C44 308.9 71.4 312.5 84.4 314.4 C97.4 316.2 112.9 318.9 122.2 320 C131.5 321.1 130.7 321.7 140 321.1 C149.3 320.6 167.8 318.8 177.8 316.7 C187.8 314.6 194.6 310 200 308.3 C205.4 306.6 207.2 306.1 210 306.7 C212.8 307.3 214.5 309.8 216.7 311.7 C218.9 313.6 221.4 314.4 223.3 318.3 C225.2 322.2 226.6 329.9 228 335 C229.4 340.1 230.8 345.5 232 349 C233.2 352.5 234.5 356.7 235.5 356 C236.5 355.3 237.2 350.2 238 345 C238.8 339.8 239.4 332.5 240 325 C240.6 317.5 240.6 305.6 241.7 300 C242.8 294.4 245 293.2 246.7 291.7 C248.4 290.2 250 290 251.7 290.8 C253.4 291.6 254.8 294.3 256.7 296.7 C258.6 299.1 260.8 302.5 263 305 C265.2 307.5 267.7 308.9 270 311.7 C272.3 314.5 274.5 320.9 276.7 321.7 C278.9 322.5 281.1 318.4 283.3 316.7 C285.5 315 287.8 312.3 290 311.7 C292.2 311.1 294.5 311.9 296.7 313.3 C298.9 314.7 301.1 317.8 303.3 320 C305.5 322.2 307.2 326.1 310 326.7 C312.8 327.2 316.7 323.9 320 323.3 C323.3 322.7 325.3 322.2 330 323.3 C334.7 324.4 340.1 329.9 348.4 329.6 C356.7 329.4 370.2 320.9 379.6 321.8 C389 322.7 397.2 334.2 404.5 335.2 C411.8 336.2 416.9 327.6 423.1 328 C429.3 328.4 433.5 335.1 441.8 337.3 C450.1 339.5 462.5 341.4 472.9 341.4 C483.3 341.4 491.1 338.3 504 337.3 C516.9 336.3 538.2 336.6 550 335.6 C561.8 334.6 566.1 332.4 574.9 331.5 C583.7 330.6 591.5 329.9 602.9 330.3 C614.3 330.7 632.4 333.4 643.3 334 C654.2 334.6 660.4 333 668.2 334 C676 335 681.7 338.4 690 340.2 C698.3 342 709.2 345.1 718 344.9 C726.8 344.6 736.1 340.8 742.9 338.7 C749.6 336.6 753.3 332.2 758.5 332.5 C763.7 332.8 767.3 337.1 774 340.2 C780.7 343.3 791.1 348.2 798.9 351.1 C806.7 354 815.9 356.8 820.7 357.3 C825.6 357.8 828 354 828 354"/>
<path d="M44 370 C44 370 79.6 370.7 95.6 372.2 C111.6 373.7 126.7 376.9 140 378.9 C153.3 380.9 167 384.3 175.6 384.4 C184.2 384.4 187.1 380.5 191.7 379.2 C196.3 377.9 199.1 379.3 203.3 376.7 C207.5 374.1 213.4 366.1 216.7 363.3 C220 360.5 221.4 359.7 223.3 360 C225.2 360.3 226.7 361.7 228.3 365 C229.9 368.3 231.4 374.2 233 380 C234.6 385.8 236.3 395 238 400 C239.7 405 241.6 410 243.3 410 C245 410 246.6 405.8 248.3 400 C250 394.2 251.9 381.4 253.3 375 C254.7 368.6 255 365 256.7 361.7 C258.4 358.4 261.1 355.8 263.3 355 C265.5 354.2 268.1 355.3 270 356.7 C271.9 358.1 273.1 360 275 363.3 C276.9 366.6 279.8 375.6 281.7 376.7 C283.6 377.8 284.8 372.5 286.7 370 C288.6 367.5 291.4 363.6 293.3 361.7 C295.2 359.8 296.4 358 298.3 358.3 C300.2 358.6 302.2 360.8 305 363.3 C307.8 365.8 311.9 371.6 315 373.3 C318.1 375 320.2 374.1 323.3 373.3 C326.4 372.5 330.5 369.1 333.3 368.3 C336.1 367.5 335.9 367 340 368.3 C344.1 369.6 350.2 376.4 357.8 376.2 C365.4 376 377 365.8 385.8 366.9 C394.6 367.9 403.4 381.7 410.7 382.5 C417.9 383.3 423.6 372.4 429.3 371.6 C435 370.8 438.7 377 444.9 377.8 C451.1 378.6 457.9 375.2 466.7 376.2 C475.5 377.2 487.2 382.4 497.8 384 C508.4 385.6 515.4 385.9 530 385.6 C544.6 385.3 573.8 383.3 585.6 382.2 C597.4 381.1 591.8 379.4 601 379 C610.2 378.6 630.6 379.5 641 380 C651.4 380.5 654 381.1 663.3 382.2 C672.6 383.3 687.4 385 696.7 386.7 C706 388.4 712.2 391.1 718.9 392.2 C725.6 393.3 731.7 392.3 736.7 393.1 C741.7 393.9 744.4 398.7 749.1 396.9 C753.8 395.1 758.5 384.6 764.7 382.2 C770.9 379.8 778.7 381.4 786.5 382.2 C794.3 383 805.2 384.1 811.4 386.9 C817.6 389.6 823.8 398.7 823.8 398.7"/>
<path d="M44 417.8 C44 417.8 111.1 418.9 128.9 420 C146.8 421.1 143.7 422.7 151.1 424.4 C158.5 426.1 165.9 428.5 173.3 430 C180.7 431.5 190 432.2 195.6 433.3 C201.2 434.4 204 436.4 206.7 436.7 C209.4 437 209.8 438.3 211.7 435 C213.6 431.7 216.4 421.7 218.3 416.7 C220.2 411.7 221.6 406.7 223.3 405 C225 403.3 226.6 404.2 228.3 406.7 C230 409.2 231.6 415 233.3 420 C235 425 236.6 432.5 238.3 436.7 C240 440.9 241.1 443.9 243.3 445 C245.5 446.1 248.9 443.7 251.7 443.3 C254.5 442.9 257.5 445.3 260 442.5 C262.5 439.7 265 431.1 266.7 426.7 C268.4 422.3 268.3 417.2 270 416.1 C271.7 415 274.3 416.9 276.7 420 C279.1 423.1 282.4 431.9 284.4 434.9 C286.4 437.9 287.1 437.8 288.8 437.8 C290.5 437.8 292.9 436.6 294.6 434.9 C296.3 433.2 297.2 430.3 298.9 427.7 C300.6 425.1 303 421.1 304.7 419 C306.4 416.9 307.1 415.4 309 415.4 C310.9 415.4 313.8 417.7 316.2 419 C318.6 420.3 320.8 422.9 323.4 423.3 C326 423.7 329.2 422 332.1 421.2 C335 420.4 338.2 418.6 340.8 418.3 C343.4 418.1 344.9 418.4 348 419.7 C351.1 421 356.2 424.5 359.6 426.2 C363 427.9 365.8 429.1 368.2 429.8 C370.6 430.5 371.6 431.2 374 430.6 C376.4 430 379.6 428.1 382.7 426.2 C385.8 424.3 389.9 420.3 392.8 419 C395.7 417.7 397.1 417.3 400 418.3 C402.9 419.3 406.5 422.5 410 425 C413.5 427.5 416.6 434.3 421 433.3 C425.4 432.3 431.1 420.4 436.7 418.9 C442.3 417.4 447.7 424.6 454.4 424.4 C461.1 424.2 467.4 418.5 476.7 417.8 C486 417.1 501.1 419.1 510 420 C518.9 420.9 520 422.6 530 423.3 C540 424 559.6 423.6 570 424.4 C580.4 425.1 584.8 426.5 592.2 427.8 C599.6 429.1 607.7 431.7 614.4 432.2 C621.1 432.7 619.6 432.3 632.2 431 C644.8 429.7 675.5 424.6 690 424.4 C704.5 424.2 712.1 428.9 718.9 430 C725.7 431.1 723.8 428.7 731 431 C738.2 433.3 751.8 443.1 762.2 443.6 C772.6 444.1 784.2 437.8 793.3 434.2 C802.4 430.6 811.5 422.3 816.7 421.8 C821.9 421.3 824.5 431 824.5 431"/>
<path d="M44 467.3 C44 467.3 90.7 467 106.7 467.3 C122.7 467.6 130.8 468.1 140 468.9 C149.2 469.7 154.8 470.9 162.2 472.2 C169.6 473.5 178.1 474.6 184.4 476.7 C190.7 478.8 196.1 482.6 200 485 C203.9 487.4 205.1 489.8 208 491.3 C210.9 492.8 215 495.9 217.3 494 C219.6 492.1 220.6 485.3 222 480 C223.4 474.7 224.6 466.8 226 462 C227.4 457.2 229.4 452.5 230.7 451.3 C232 450.1 233 452.4 234 455 C235 457.6 235.4 462.8 236.7 466.7 C238 470.6 239.8 475.8 241.7 478.3 C243.6 480.8 245.8 480.4 248.3 481.7 C250.8 482.9 253.9 483.9 256.7 485.8 C259.5 487.7 262.8 494.3 265 493.3 C267.2 492.3 268.3 484.2 270 480 C271.7 475.8 273.3 469.7 275 468.3 C276.7 466.9 278.1 470 280 471.7 C281.9 473.4 284.5 475.5 286.7 478.3 C288.9 481.1 291.1 486.9 293.3 488.3 C295.5 489.7 297.8 488.1 300 486.7 C302.2 485.3 304.5 481.7 306.7 480 C308.9 478.3 311.1 476.4 313.3 476.7 C315.5 477 317.8 480 320 481.7 C322.2 483.4 324.5 486.1 326.7 486.7 C328.9 487.2 329.1 486.5 333.3 485 C337.5 483.5 346.7 478.3 352 477.8 C357.3 477.3 360.5 480.3 365 482 C369.5 483.7 374.7 488.5 378.9 487.8 C383.1 487.1 385.9 481.7 390 478 C394.1 474.3 399.1 466.6 403.3 465.6 C407.5 464.6 411.3 469.6 415 472 C418.7 474.4 421.3 480.5 425.6 480 C429.9 479.5 435.8 469.9 441 469 C446.2 468.1 449.3 474.8 456.7 474.4 C464.1 474 473.4 468.6 485.6 466.7 C497.8 464.8 517 464.3 530 463 C543 461.7 552.2 459.2 563.3 458.9 C574.4 458.6 585.6 460.1 596.7 461 C607.8 461.9 618.9 463.3 630 464.4 C641.1 465.5 654 467.8 663.3 467.8 C672.6 467.8 678.9 466.1 685.6 464.4 C692.3 462.7 695.7 458.4 703.3 457.8 C710.9 457.2 721.2 458.2 731 460.7 C740.8 463.2 750.2 470.1 762.2 473 C774.2 475.9 793.4 479.1 802.7 477.8 C812 476.5 814.7 468.3 818.2 465.3 C821.8 462.3 824 460 824 460"/>
<path d="M44 523.3 C44 523.3 83.3 521.8 95.6 521.1 C107.9 520.4 108.5 519.4 117.8 518.9 C127 518.4 141.1 518 151.1 518.4 C161.1 518.8 170.4 519.7 177.8 521.1 C185.2 522.5 190.8 524.1 195.6 526.7 C200.4 529.3 203.8 533.8 206.7 536.7 C209.6 539.6 211.1 541.3 213 544 C214.9 546.7 216.5 550 218 553 C219.5 556 220.8 560 222 562 C223.2 564 224.1 566 225 565 C225.9 564 226.9 561 227.5 556 C228.1 551 228.1 541.8 228.5 535 C228.9 528.2 229.3 520.2 230 515 C230.7 509.8 231.4 506.2 232.5 504 C233.6 501.8 234.6 500.1 236.7 501.7 C238.8 503.2 242.5 510.7 245 513.3 C247.5 515.9 249.5 515.5 251.7 517.5 C253.9 519.5 256.4 522.4 258.3 525 C260.2 527.6 261.9 530.2 263.3 533.3 C264.7 536.3 265.7 540 266.7 543.3 C267.7 546.6 268.3 552.2 269.2 553.3 C270.1 554.4 270.8 554.2 272 550 C273.2 545.8 275.3 532.3 276.6 528 C277.9 523.7 278.6 524.5 280 524 C281.4 523.5 282.8 523.5 285 525 C287.2 526.5 290.7 529.6 293 532.7 C295.3 535.8 297.5 541.3 299 543.6 C300.5 545.9 300.7 546.5 302 546.7 C303.3 546.9 305.2 547.1 307 545 C308.8 542.9 311.4 536 313 534 C314.6 532 315.2 534 316.7 533.3 C318.1 532.6 319.8 530 321.7 530 C323.6 530 325.8 531.9 328.3 533.3 C330.8 534.7 330.9 540 336.7 538.3 C342.5 536.6 356.1 524.3 363.3 523.3 C370.5 522.2 375.2 529 380 532 C384.8 535 387.6 544.5 392.2 541 C396.8 537.5 401.5 514.3 407.8 511 C414.1 507.7 423.7 521 430 521 C436.3 521 436.3 512.3 445.6 511 C454.9 509.7 473.4 514.6 485.6 513.3 C497.8 512 511.5 504.6 518.9 503.3 C526.3 502 521.5 506.2 530 505.6 C538.5 505.1 561.5 502.1 570 500 C578.5 497.9 576.6 494.1 581.1 493.3 C585.6 492.5 590.4 495.4 596.7 495 C603 494.6 611.5 491.3 618.9 491 C626.3 490.7 631.8 492.5 641 493.3 C650.2 494.1 663.3 496.3 674.4 495.6 C685.5 494.9 695.8 490 707.8 488.9 C719.8 487.8 734 486.9 746.7 488.7 C759.4 490.5 774.1 496.2 784 499.6 C793.9 503 800.9 505.3 805.8 509 C810.7 512.7 811.4 518.8 813.3 521.8 C815.2 524.8 816 527.5 817 526.7 C818 525.9 818.7 520.3 819.5 517 C820.3 513.7 821.1 509.5 822 507 C822.9 504.5 825 502 825 502"/>
<path d="M44 568.9 C44 568.9 90.7 568.2 106.7 566.7 C122.7 565.2 128.9 561.7 140 560 C151.1 558.3 164 556.7 173.3 556.7 C182.6 556.7 190.6 558.6 195.6 560 C200.6 561.4 200.6 562.8 203.3 565 C206 567.2 209.2 570.8 211.7 573.3 C214.2 575.8 216.6 577.7 218.3 580 C220 582.3 220.6 584.5 222 587 C223.4 589.5 225.3 592.7 227 595 C228.7 597.3 230.3 600.5 232 601 C233.7 601.5 235.3 599.5 237 598 C238.7 596.5 240.7 594.2 242 592 C243.3 589.8 243.5 589 245 585 C246.5 581 249.5 570.5 251 568 C252.5 565.5 253 568 254 570 C255 572 256 576.1 257 580 C258 583.9 258.4 590.6 260.2 593.4 C262 596.2 265.4 597 268 597 C270.6 597 273.8 597.1 275.8 593.4 C277.8 589.7 278.5 580.7 280 575 C281.5 569.3 283.4 560.6 285 559 C286.6 557.4 288 563.1 289.8 565.4 C291.6 567.7 294 571.5 296 573 C298 574.5 299.9 575.5 302 574.7 C304.1 574 306.4 570.6 308.5 568.5 C310.6 566.4 312.8 563.7 314.7 562.3 C316.6 560.9 317.4 560.1 320 560 C322.6 559.9 323.5 562.2 330 561.7 C336.5 561.2 351.5 556.2 358.9 556.7 C366.3 557.2 368.5 560.5 374.4 564.4 C380.3 568.3 388.8 580 394.4 580 C400 580 404.1 569 407.8 564.4 C411.5 559.8 413 552.9 416.7 552.2 C420.4 551.5 425.2 560 430 560 C434.8 560 440.1 552.9 445.6 552.2 C451.2 551.5 456.6 555.8 463.3 555.6 C470 555.4 478.2 550.8 485.6 551 C493 551.2 502.2 557.4 507.8 556.7 C513.4 556 515.2 548.4 518.9 546.7 C522.6 545 525.9 545.4 530 546.7 C534.1 548 537.8 555.5 543.3 554.4 C548.8 553.3 556.2 540.5 563.3 540 C570.3 539.5 578.2 551.5 585.6 551.1 C593 550.7 601.5 538.9 607.8 537.8 C614.1 536.7 617 545.5 623.3 544.4 C629.6 543.3 635.2 534.1 645.6 531 C656 527.9 675.2 527.6 685.6 525.6 C696 523.6 697.1 520.7 707.8 518.9 C718.5 517.1 735.5 513.5 749.8 515 C764 516.5 783.4 522.4 793.3 527.6 C803.2 532.8 805.4 540.3 809 546 C812.6 551.7 815 561.8 815 561.8"/>
<path d="M44 600 C44 600 67.3 598.8 80 598 C92.7 597.2 106.7 596.7 120 595 C133.3 593.3 147.5 590.2 160 588 C172.5 585.8 188.2 582.4 194.9 581.6 C201.6 580.8 197.2 582.1 200.2 583.3 C203.2 584.5 209.4 586.3 212.7 588.7 C216 591.1 218 594.9 219.8 597.6 C221.6 600.3 222.1 601.3 223.3 604.7 C224.5 608.1 225.7 613.5 227 618 C228.3 622.5 228.8 629.7 231 632 C233.2 634.3 237.2 632 240 632 C242.8 632 246 633.7 248 632 C250 630.3 250.7 625 252 622 C253.3 619 253.3 615.7 256 614 C258.7 612.3 263.7 613.2 268 612 C272.3 610.8 278.3 610.4 281.7 606.7 C285.1 603 286.4 593.1 288.3 590 C290.2 586.9 291.4 587.8 293.3 588.3 C295.2 588.8 296.4 592.7 300 593.3 C303.6 593.9 310 592.5 315 592 C320 591.5 324.5 590.1 330 590 C335.5 589.9 341.5 592 347.8 591.1 C354.1 590.2 359.7 582 367.8 584.4 C375.9 586.8 388.6 605.6 396.7 605.6 C404.8 605.6 410 586.8 416.7 584.4 C423.4 582 430.4 590.9 436.7 591.1 C443 591.3 448.1 586 454.4 585.6 C460.7 585.2 467.3 588.9 474.4 588.9 C481.4 588.9 489.3 584.9 496.7 585.6 C504.1 586.3 513.4 593.6 518.9 593.3 C524.4 593 524.5 584.2 530 584 C535.5 583.8 544.8 593.2 552.2 592.2 C559.6 591.2 567 579.1 574.4 577.8 C581.8 576.5 589.3 583.1 596.7 584.4 C604.1 585.7 611.9 585 618.9 585.6 C625.9 586.2 631.5 588.7 638.9 587.8 C646.3 586.9 653.3 582.6 663.3 580 C673.3 577.4 689.6 574.8 698.9 572.2 C708.2 569.6 713.5 566.6 718.9 564.4 C724.2 562.1 724.8 561.8 731 558.7 C737.2 555.6 745.6 546.8 756 546 C766.4 545.2 784.5 551.4 793.3 554 C802.1 556.6 809 561.8 809 561.8"/>
<path d="M44 627.6 C44 627.6 67.3 626.3 80 625 C92.7 623.7 106.7 622.2 120 620 C133.3 617.8 147.5 615 160 612 C172.5 609 188.2 603.8 194.9 602 C201.6 600.2 197.8 600.4 200.2 601.1 C202.6 601.8 206.4 604 209.1 606.4 C211.8 608.8 214.1 612.3 216.2 615.3 C218.3 618.3 220.1 620.9 221.6 624.2 C223.1 627.5 223.9 631.4 225.1 634.9 C226.3 638.4 227.5 641.3 229 645 C230.5 648.7 232.5 653.8 234 657 C235.5 660.2 236.7 663.3 238 664 C239.3 664.7 240.7 663.7 242 661 C243.3 658.3 244.7 651.5 246 648 C247.3 644.5 248 643 250 640 C252 637 253.8 632.3 258 630 C262.2 627.7 269.7 627.7 275 626 C280.3 624.3 286.1 620.7 290 620 C293.9 619.3 295.5 620.2 298.3 621.7 C301.1 623.2 303.4 628.9 306.7 629.2 C310 629.5 314.7 625.1 318.3 623.3 C321.9 621.5 323.4 619.2 328.3 618.3 C333.2 617.4 341.6 619.2 347.8 617.8 C354 616.4 360.4 610.8 365.6 610 C370.8 609.2 373.7 610.7 378.9 613.3 C384.1 615.9 390 626.3 396.7 625.6 C403.4 624.9 412.2 610.8 418.9 608.9 C425.6 607 431.1 614 436.7 614.4 C442.2 614.8 445.9 610.9 452.2 611.1 C458.5 611.3 465.9 615.6 474.4 615.6 C482.9 615.6 495.9 610.7 503.3 611.1 C510.7 611.5 514.4 617.3 518.9 617.8 C523.4 618.3 523 613.8 530 614 C537 614.2 550 619 561.1 618.9 C572.2 618.8 587.4 612.4 596.7 613.3 C606 614.2 610.8 623.6 616.7 624.4 C622.6 625.1 624.4 619.6 632.2 617.8 C640 615.9 652.2 614 663.3 613.3 C674.4 612.5 689.6 614.4 698.9 613.3 C708.2 612.2 713.5 609.1 718.9 606.7 C724.2 604.3 724.8 602.9 731 599 C737.2 595.1 745.6 584.6 756 583.6 C766.4 582.6 785.5 588.3 793.3 593 C801.1 597.7 802.7 605.9 802.7 611.6 C802.7 617.3 793.3 627 793.3 627"/>
<path d="M44 657 C44 657 67.3 656.2 80 655 C92.7 653.8 106.7 652.5 120 650 C133.3 647.5 147.8 643.4 160 640 C172.2 636.6 186 631.8 193 629.6 C200 627.4 199.3 626.9 202 626.9 C204.7 626.9 206.7 628 209.1 629.6 C211.5 631.2 213.5 633.6 216.2 636.7 C218.8 639.8 222.4 643.3 225 648 C227.6 652.7 230 660.2 232 665 C234 669.8 235.5 674.3 237 677 C238.5 679.7 239.7 681.7 241 681 C242.3 680.3 243.5 676 245 673 C246.5 670 247.8 665.2 250 663 C252.2 660.8 254.7 661.3 258 660 C261.3 658.7 264.7 657 270 655 C275.3 653 285.6 649.1 290 648.3 C294.4 647.5 293.9 648.5 296.7 650 C299.5 651.5 302.8 657.5 306.7 657.5 C310.6 657.5 315.6 652.1 320 650 C324.4 647.9 328.7 645.9 333.3 645 C337.9 644.1 341 646.2 347.8 644.4 C354.6 642.6 365.1 633.6 374.4 634.4 C383.6 635.1 395.9 648.7 403.3 648.9 C410.7 649.1 413.7 636.9 418.9 635.6 C424.1 634.3 428.8 640.7 434.4 641.1 C439.9 641.5 445.5 638 452.2 637.8 C458.9 637.6 465.5 640.4 474.4 640 C483.3 639.6 498.2 635.2 505.6 635.6 C513 636 514.8 641.3 518.9 642.2 C523 643.1 525.2 641.7 530 641.1 C534.8 640.5 541.1 637.6 547.8 638.9 C554.5 640.2 560 647.4 570 648.9 C580 650.4 598.9 648.2 607.8 647.8 C616.7 647.4 617 647.5 623.3 646.7 C629.6 646 636.7 644 645.6 643.3 C654.5 642.5 667.1 641.7 676.7 642.2 C686.3 642.7 692.7 646.4 703.3 646.2 C713.9 646 730.6 643.8 740.4 641.1 C750.2 638.4 755.4 631 762.2 630.2 C769 629.4 777.4 631.8 781 636.5 C784.6 641.2 784 658.2 784 658.2"/>
<path d="M44 690.7 C44 690.7 67.3 689 80 688 C92.7 687 106.7 687 120 685 C133.3 683 148.7 678.1 160 676 C171.3 673.9 181.1 674 187.8 672.2 C194.5 670.4 196.6 667.4 200.2 665 C203.8 662.6 206.4 659.2 209.1 658 C211.8 656.8 213.5 656.8 216.2 658 C218.8 659.2 221 661.3 225 665 C229 668.7 235 675.8 240 680 C245 684.2 250 689 255 690 C260 691 264.2 688 270 686 C275.8 684 285.6 679.8 290 678.3 C294.4 676.8 293.9 675.3 296.7 676.7 C299.5 678.1 302.3 686.4 306.7 686.7 C311.1 687 318.3 679.8 323.3 678.3 C328.3 676.8 331.9 677.2 336.7 677.5 C341.5 677.8 345.2 681.1 352.2 680 C359.2 678.9 369.6 670.2 378.9 671.1 C388.2 672 399.6 684.5 407.8 685.6 C416 686.7 420.4 680 427.8 677.8 C435.2 675.6 442.6 671.7 452.2 672.2 C461.8 672.8 476 681.3 485.6 681.1 C495.2 680.9 502.6 672 510 671.1 C517.4 670.2 523 676 530 675.6 C537 675.2 544.8 668.4 552.2 668.9 C559.6 669.4 565.1 678.3 574.4 678.9 C583.7 679.5 597.4 672.6 607.8 672.2 C618.2 671.8 630 675 636.7 676.7 C643.4 678.4 644.5 679.1 647.8 682.2 C651.1 685.4 653.4 692.3 656.7 695.6 C660 698.9 661.1 699.6 667.8 702.2 C674.5 704.8 688.2 708.5 696.7 711.1 C705.2 713.7 713.7 717.8 718.9 717.8 C724.1 717.8 727.8 711.1 727.8 711.1"/>
<path d="M44 728.2 C44 728.2 58.5 730.7 66.7 731 C74.9 731.3 83.5 730.5 93.3 730 C103.1 729.5 116.4 728.8 125.3 728.2 C134.2 727.6 138.7 727.7 146.7 726.4 C154.7 725.1 165.3 723.3 173.3 720.2 C181.3 717.1 189.8 709.2 194.7 707.8 C199.6 706.4 200.4 709.3 203 712 C205.6 714.7 208.2 721.5 210 724 C211.8 726.5 209 726.5 214 727 C219 727.5 234.8 725.2 240 727 C245.2 728.8 243.7 733.3 245 738 C246.3 742.7 247.2 748.8 248 755 C248.8 761.2 249.5 768.3 250 775 C250.5 781.7 251 795 251 795"/>
<path d="M46 754 C46 754 81 755.4 93.3 756.7 C105.6 758 114.1 759.5 120 762 C125.9 764.5 125.9 767.8 128.9 771.8 C131.9 775.8 134.8 782.6 137.8 786 C140.8 789.4 142.3 790.6 146.7 792.2 C151.1 793.8 159.1 795.7 164.4 795.8 C169.7 795.9 178.7 793 178.7 793"/>
<path d="M221 660 C221 660 223 681.3 224 690 C225 698.7 226.2 707.3 227 712 C227.8 716.7 229 718 229 718"/>
<path d="M231 690 C231 690 233.2 707.3 234 712 C234.8 716.7 236 718 236 718"/>
<path d="M229 740 C229 740 231.8 754.7 233 760 C234.2 765.3 236 772 236 772"/>
<path d="M237 740 C237 740 239.2 753.3 240 760 C240.8 766.7 242 780 242 780"/>
<path d="M241 700 C241 700 243 709 244 712 C245 715 247 718 247 718"/>
<path d="M330 751 C330 751 345.5 758.3 352.2 757.8 C358.9 757.3 365.6 750.6 370 747.8 C374.4 745 378.9 741 378.9 741"/>
<path d="M407.8 744.4 C407.8 744.4 415.6 739.3 418.9 737.8 C422.2 736.3 425.4 735.9 427.8 735.6 C430.2 735.3 433 736 433 736"/>
<path d="M462.7 740 C462.7 740 470.6 745.9 474.4 747.8 C478.2 749.6 481.5 750.7 485.6 751.1 C489.7 751.5 498.9 750 498.9 750"/>
<path d="M510 752.2 C510 752.2 524.8 748.4 532.2 745.6 C539.6 742.8 548.8 736.2 554.4 735.6 C560 735 562 740.6 565.6 742.2 C569.2 743.8 576 745 576 745"/>
<path d="M614.4 741.1 C614.4 741.1 628.8 747 634.4 750 C640 753 643 757.2 647.8 758.9 C652.6 760.6 660.3 759.6 663.3 760 C666.3 760.4 666 761 666 761"/>
<path d="M696.2 761.5 C696.2 761.5 704.4 762.9 710 763.3 C715.6 763.7 725 764.5 730 764 C735 763.5 740 760 740 760"/>
<path d="M430 770 C430 770 456.7 771.6 470 772 C483.3 772.4 499.6 772.9 510 772.2 C520.4 771.5 524.8 768.7 532.2 767.8 C539.6 766.9 548.5 766.3 554.4 766.7 C560.3 767.1 562.2 769.1 567.8 770 C573.4 770.9 581.9 772.6 587.8 772.2 C593.7 771.8 597 768.3 603.3 767.8 C609.6 767.2 618.9 768 625.6 768.9 C632.3 769.8 636.6 772.2 643.3 773.3 C650 774.4 658.2 775.4 665.6 775.6 C673 775.8 680.4 774.8 687.8 774.4 C695.2 774 703 773.7 710 773.3 C717 772.9 730 772 730 772"/>
<path d="M432 786 C432 786 457 786.1 470 786 C483 785.9 495.9 786.8 510 785.6 C524.1 784.4 543.3 779.3 554.4 778.9 C565.5 778.5 569.3 782.2 576.7 783.3 C584.1 784.4 591.5 785.6 598.9 785.6 C606.3 785.6 621.1 783.3 621.1 783.3"/>
<path d="M436 797 C436 797 466 797.5 480 797 C494 796.5 506.7 794.3 520 794 C533.3 793.7 546.7 794.5 560 795 C573.3 795.5 600 797 600 797"/>
<path d="M665 787 C665 787 684.2 786.3 690 786 C695.8 785.7 700 785 700 785"/>
<path d="M257 773 C257 773 265.3 788.3 270 790 C274.7 791.7 280 783.7 285 783 C290 782.3 295.8 784.8 300 786 C304.2 787.2 305 789.5 310 790 C315 790.5 323.3 788.5 330 789 C336.7 789.5 350 793 350 793"/>
<path d="M250 795 C250 795 261.7 800.2 270 801 C278.3 801.8 290 800 300 800 C310 800 321.3 801 330 801 C338.7 801 352 800 352 800"/>
<path d="M262 800 C262 800 287 803.3 300 804 C313 804.7 340 804 340 804"/>
</g>
<path d="M40 802 L64.5 802 L65.5 803 L93 803 L146.7 803 L168 802.5 L175 801.5 L181 800 L189 797.6 L196 796 L201.7 793.3 L206.7 775 L211.7 753.3 L216.7 736.7 L223.3 753.3 L230 775 L235 791.7 L241.7 805 L246.7 807.3 L340 806.8 L354.4 805.6 L358.9 801.1 L363.3 787.8 L370 767.8 L378.9 743.3 L388.9 736.2 L396.7 741.1 L407.8 752.2 L416.7 761.1 L421.1 772.2 L425.6 785.6 L430 796.7 L434.4 804.4 L441.1 807 L500 807.3 L530 808 L614.4 807.8 L625.6 798.9 L634.4 790 L645.6 782.2 L654.4 787.8 L665.6 796.7 L676.7 806 L683.3 808.3 L719.5 808.3 L724 795 L729.4 779.4 L740.6 754.4 L751.7 729.4 L762.8 704.4 L773.9 687.8 L783.6 668.3 L790.6 646.1 L796.1 623.9 L801.7 604.4 L807.2 585 L811.5 575 L815.6 571.7 L819.7 576.7 L826.7 596 L828 599 L828 812 L44 812 Z" fill="#fff" stroke="none"/>
<path d="M40 802 C40 802 61.1 801.9 64.5 802 C67.9 802.1 61.7 802.9 65.5 803 C69.3 803.1 82.2 803 93 803 C103.8 803 136.7 803.1 146.7 803 C156.7 802.9 164.2 802.7 168 802.5 C171.8 802.3 173.3 801.8 175 801.5 C176.7 801.2 179.1 800.5 181 800 C182.9 799.5 187 798.1 189 797.6 C191 797.1 194.3 796.6 196 796 C197.7 795.4 200.3 796.1 201.7 793.3 C203.1 790.5 205.4 780.3 206.7 775 C208 769.7 210.4 758.4 211.7 753.3 C213 748.2 215.2 736.7 216.7 736.7 C218.2 736.7 221.5 748.2 223.3 753.3 C225.1 758.4 228.4 769.9 230 775 C231.6 780.1 233.4 787.7 235 791.7 C236.6 795.7 240.1 802.9 241.7 805 C243.3 807.1 233.6 807.1 246.7 807.3 C259.8 807.5 325.6 807 340 806.8 C354.4 806.6 351.9 806.4 354.4 805.6 C356.9 804.8 357.7 803.5 358.9 801.1 C360.1 798.7 361.8 792.2 363.3 787.8 C364.8 783.4 367.9 773.7 370 767.8 C372.1 761.9 376.4 747.5 378.9 743.3 C381.4 739.1 386.5 736.5 388.9 736.2 C391.3 735.9 394.2 739 396.7 741.1 C399.2 743.2 405.1 749.5 407.8 752.2 C410.5 754.9 414.9 758.4 416.7 761.1 C418.5 763.8 419.9 768.9 421.1 772.2 C422.3 775.5 424.4 782.3 425.6 785.6 C426.8 788.9 428.8 794.2 430 796.7 C431.2 799.2 432.9 803 434.4 804.4 C435.9 805.8 432.4 806.6 441.1 807 C449.8 807.4 488.1 807.2 500 807.3 C511.9 807.4 514.7 807.9 530 808 C545.3 808.1 601.7 809 614.4 807.8 C627.1 806.6 622.9 801.3 625.6 798.9 C628.3 796.5 631.7 792.2 634.4 790 C637.1 787.8 642.9 782.5 645.6 782.2 C648.3 781.9 651.7 785.9 654.4 787.8 C657.1 789.7 662.6 794.3 665.6 796.7 C668.6 799.1 674.3 804.5 676.7 806 C679.1 807.5 677.6 808 683.3 808.3 C689 808.6 714.1 810.1 719.5 808.3 C724.9 806.5 722.7 798.9 724 795 C725.3 791.1 727.2 784.8 729.4 779.4 C731.6 774 737.6 761.1 740.6 754.4 C743.6 747.7 748.7 736.1 751.7 729.4 C754.7 722.7 759.8 709.9 762.8 704.4 C765.8 698.9 771.1 692.6 773.9 687.8 C776.7 683 781.4 673.9 783.6 668.3 C785.8 662.7 788.9 652 790.6 646.1 C792.3 640.2 794.6 629.5 796.1 623.9 C797.6 618.3 800.2 609.6 801.7 604.4 C803.2 599.2 805.9 588.9 807.2 585 C808.5 581.1 810.4 576.8 811.5 575 C812.6 573.2 814.5 571.5 815.6 571.7 C816.7 571.9 818.2 573.5 819.7 576.7 C821.2 579.9 825.6 593 826.7 596 C827.8 599 828 599 828 599" fill="none" stroke="#000" stroke-width="2"/>
<rect x="76.5" y="125.5" width="28.7" height="16.5" fill="none" stroke="#000" stroke-width="1"/>
<g transform="scale(0.9,1)"><text class="t" x="92.61 100.94 109.28" y="138.9" font-size="14.2" text-anchor="middle">296</text></g>
<rect x="507.2" y="119.5" width="27.6" height="16.7" fill="none" stroke="#000" stroke-width="1"/>
<g transform="scale(0.9,1)"><text class="t" x="570.56 578.89 587.22" y="133" font-size="14.2" text-anchor="middle">296</text></g>
<rect x="574.8" y="121.2" width="28" height="16.6" fill="none" stroke="#000" stroke-width="1"/>
<g transform="scale(0.9,1)"><text class="t" x="645.89 654.22 662.56" y="134.7" font-size="14.2" text-anchor="middle">296</text></g>
<rect x="746.9" y="123.1" width="29.3" height="16.9" fill="none" stroke="#000" stroke-width="1"/>
<g transform="scale(0.9,1)"><text class="t" x="837.83 846.17 854.50" y="136.8" font-size="14.2" text-anchor="middle">296</text></g>
<rect x="82.2" y="225.5" width="28" height="15.7" fill="none" stroke="#000" stroke-width="1"/>
<g transform="scale(0.9,1)"><text class="t" x="98.56 106.89 115.22" y="238.5" font-size="14.2" text-anchor="middle">288</text></g>
<rect x="496.5" y="238.2" width="28.7" height="16.3" fill="none" stroke="#000" stroke-width="1"/>
<g transform="scale(0.9,1)"><text class="t" x="559.28 567.61 575.94" y="251.5" font-size="14.2" text-anchor="middle">288</text></g>
<rect x="603.8" y="238.8" width="28.4" height="16.7" fill="none" stroke="#000" stroke-width="1"/>
<g transform="scale(0.9,1)"><text class="t" x="678.33 686.67 695.00" y="252.3" font-size="14.2" text-anchor="middle">288</text></g>
<rect x="729.8" y="240.5" width="29" height="17.3" fill="none" stroke="#000" stroke-width="1"/>
<g transform="scale(0.9,1)"><text class="t" x="818.67 827.00 835.33" y="254.3" font-size="14.2" text-anchor="middle">288</text></g>
<rect x="95.6" y="410.5" width="29.5" height="16.3" fill="none" stroke="#000" stroke-width="1"/>
<g transform="scale(0.9,1)"><text class="t" x="114.28 122.61 130.94" y="423.8" font-size="14.2" text-anchor="middle">280</text></g>
<rect x="479.8" y="412.1" width="28.6" height="16.7" fill="none" stroke="#000" stroke-width="1"/>
<g transform="scale(0.9,1)"><text class="t" x="540.67 549.00 557.33" y="425.7" font-size="14.2" text-anchor="middle">280</text></g>
<rect x="652.7" y="418.9" width="28.6" height="17.3" fill="none" stroke="#000" stroke-width="1"/>
<g transform="scale(0.9,1)"><text class="t" x="732.78 741.11 749.44" y="432.7" font-size="14.2" text-anchor="middle">280</text></g>
<rect x="225.2" y="623.8" width="28.8" height="16.9" fill="none" stroke="#000" stroke-width="1"/>
<g transform="scale(0.9,1)"><text class="t" x="257.89 266.22 274.56" y="637.5" font-size="14.2" text-anchor="middle">272</text></g>
<rect x="666.7" y="564.5" width="29" height="17.2" fill="none" stroke="#000" stroke-width="1"/>
<g transform="scale(0.9,1)"><text class="t" x="748.56 756.89 765.22" y="578.3" font-size="14.2" text-anchor="middle">272</text></g>
<rect x="789.2" y="563.8" width="27.9" height="16.8" fill="none" stroke="#000" stroke-width="1"/>
<g transform="scale(0.9,1)"><text class="t" x="884.06 892.39 900.72" y="577.4" font-size="14.2" text-anchor="middle">272</text></g>
<rect x="213" y="719" width="28.2" height="16.5" fill="none" stroke="#000" stroke-width="1"/>
<g transform="scale(0.9,1)"><text class="t" x="244.00 252.33 260.67" y="732.5" font-size="14.2" text-anchor="middle">264</text></g>
<rect x="433.8" y="731.2" width="28.4" height="16.5" fill="none" stroke="#000" stroke-width="1"/>
<g transform="scale(0.9,1)"><text class="t" x="489.44 497.78 506.11" y="744.7" font-size="14.2" text-anchor="middle">264</text></g>
<rect x="666.7" y="753.2" width="29" height="16.3" fill="none" stroke="#000" stroke-width="1"/>
<g transform="scale(0.9,1)"><text class="t" x="748.56 756.89 765.22" y="766.6" font-size="14.2" text-anchor="middle">264</text></g>
<rect x="500.5" y="743.2" width="12.3" height="17" fill="none" stroke="#000" stroke-width="1"/>
<g transform="scale(0.9,1)"><text class="t" x="562.94" y="756.9" font-size="14.2" text-anchor="middle">0</text></g>
<rect x="577.2" y="736.7" width="14.1" height="17.2" fill="none" stroke="#000" stroke-width="1"/>
<g transform="scale(0.9,1)"><text class="t" x="649.17" y="750.5" font-size="14.2" text-anchor="middle">0</text></g>
<rect x="532.7" y="781.5" width="13.5" height="12.4" fill="none" stroke="#000" stroke-width="1"/>
<g transform="scale(0.9,1)"><text class="t" x="599.39" y="792.9" font-size="14.2" text-anchor="middle">0</text></g>
<rect x="693.8" y="786.7" width="13" height="17.2" fill="none" stroke="#000" stroke-width="1"/>
<g transform="scale(0.9,1)"><text class="t" x="778.11" y="800.5" font-size="14.2" text-anchor="middle">0</text></g>
<text x="539.6" y="803" font-family="Liberation Sans, sans-serif" font-weight="bold" font-size="12" stroke="#000" stroke-width="0.6" text-anchor="middle" textLength="29" lengthAdjust="spacingAndGlyphs">NZFX</text>
</g>
<rect x="44.5" y="98.5" width="783" height="711" fill="none" stroke="#000" stroke-width="1"/>
<path d="M44.5 809V799M44.5 98V108M98.5 809V799M98.5 98V108M153.5 809V799M153.5 98V108M207.5 809V799M207.5 98V108M262.5 809V799M262.5 98V108M316.5 809V799M316.5 98V108M370.5 809V799M370.5 98V108M425.5 809V799M425.5 98V108M479.5 809V799M479.5 98V108M534.5 809V799M534.5 98V108M588.5 809V799M588.5 98V108M642.5 809V799M642.5 98V108M697.5 809V799M697.5 98V108M751.5 809V799M751.5 98V108M805.5 809V799M805.5 98V108M44 720.5H54M828 720.5H818M44 631.5H54M828 631.5H818M44 542.5H54M828 542.5H818M44 454.5H54M828 454.5H818M44 365.5H54M828 365.5H818M44 276.5H54M828 276.5H818M44 187.5H54M828 187.5H818M44 98.5H54M828 98.5H818" stroke="#000" stroke-width="1" fill="none"/>
<clipPath id="rc"><rect x="44" y="98" width="784" height="712"/></clipPath>
<circle clip-path="url(#rc)" cx="539.4" cy="809.6" r="4.8" fill="#f00"/>
<g transform="scale(0.95,1)"><text class="t" x="9.89 18.05 26.21" y="814.6" font-size="14" text-anchor="middle">0.0</text></g>
<g transform="scale(0.95,1)"><text class="t" x="9.89 18.05 26.21" y="725.7" font-size="14" text-anchor="middle">1.0</text></g>
<g transform="scale(0.95,1)"><text class="t" x="9.89 18.05 26.21" y="636.9" font-size="14" text-anchor="middle">2.0</text></g>
<g transform="scale(0.95,1)"><text class="t" x="9.89 18.05 26.21" y="548" font-size="14" text-anchor="middle">3.0</text></g>
<g transform="scale(0.95,1)"><text class="t" x="9.89 18.05 26.21" y="459.1" font-size="14" text-anchor="middle">4.0</text></g>
<g transform="scale(0.95,1)"><text class="t" x="9.89 18.05 26.21" y="370.2" font-size="14" text-anchor="middle">5.0</text></g>
<g transform="scale(0.95,1)"><text class="t" x="9.89 18.05 26.21" y="281.4" font-size="14" text-anchor="middle">6.0</text></g>
<g transform="scale(0.95,1)"><text class="t" x="9.89 18.05 26.21" y="192.5" font-size="14" text-anchor="middle">7.0</text></g>
<g transform="scale(0.95,1)"><text class="t" x="9.89 18.05 26.21" y="103.6" font-size="14" text-anchor="middle">8.0</text></g>
<g transform="scale(1.,1)"><text class="t" x="44.80" y="827.6" font-size="12.3" text-anchor="middle">0</text></g>
<g transform="scale(1.,1)"><text class="t" x="95.69 102.69" y="827.6" font-size="12.3" text-anchor="middle">10</text></g>
<g transform="scale(1.,1)"><text class="t" x="150.08 157.08" y="827.6" font-size="12.3" text-anchor="middle">20</text></g>
<g transform="scale(1.,1)"><text class="t" x="204.47 211.47" y="827.6" font-size="12.3" text-anchor="middle">30</text></g>
<g transform="scale(1.,1)"><text class="t" x="258.86 265.86" y="827.6" font-size="12.3" text-anchor="middle">40</text></g>
<g transform="scale(1.,1)"><text class="t" x="313.25 320.25" y="827.6" font-size="12.3" text-anchor="middle">50</text></g>
<g transform="scale(1.,1)"><text class="t" x="367.64 374.64" y="827.6" font-size="12.3" text-anchor="middle">60</text></g>
<g transform="scale(1.,1)"><text class="t" x="422.03 429.03" y="827.6" font-size="12.3" text-anchor="middle">70</text></g>
<g transform="scale(1.,1)"><text class="t" x="476.42 483.42" y="827.6" font-size="12.3" text-anchor="middle">80</text></g>
<g transform="scale(1.,1)"><text class="t" x="530.81 537.81" y="827.6" font-size="12.3" text-anchor="middle">90</text></g>
<g transform="scale(1.,1)"><text class="t" x="581.70 588.70 595.70" y="827.6" font-size="12.3" text-anchor="middle">100</text></g>
<g transform="scale(1.,1)"><text class="t" x="636.09 643.09 650.09" y="827.6" font-size="12.3" text-anchor="middle">110</text></g>
<g transform="scale(1.,1)"><text class="t" x="690.48 697.48 704.48" y="827.6" font-size="12.3" text-anchor="middle">120</text></g>
<g transform="scale(1.,1)"><text class="t" x="744.87 751.87 758.87" y="827.6" font-size="12.3" text-anchor="middle">130</text></g>
<g transform="scale(1.,1)"><text class="t" x="799.26 806.26 813.26" y="827.6" font-size="12.3" text-anchor="middle">140</text></g>
<g transform="scale(0.8,1)"><text class="t" x="84.00 94.94 105.88 116.81 127.75" y="847" font-size="17.4" text-anchor="middle"><tspan font-size="17.4">S</tspan><tspan font-size="15.3">outh</tspan></text></g>
<g transform="scale(0.8,1)"><text class="t" x="494.00 505.25 516.50 527.75 539.00 550.25 561.50 572.75" y="847" font-size="17.4" text-anchor="middle"><tspan font-size="17.4">D</tspan><tspan font-size="15.3">istance</tspan></text><text class="t" x="595.25 606.50 617.75 629.00" y="847" font-size="17.4" text-anchor="middle"><tspan font-size="17.4">(</tspan><tspan font-size="15.3">km</tspan><tspan font-size="17.4">)</tspan></text></g>
<g transform="scale(0.8,1)"><text class="t" x="1017.75 1028.69 1039.62 1050.56 1061.50" y="847" font-size="17.4" text-anchor="middle"><tspan font-size="17.4">N</tspan><tspan font-size="15.3">orth</tspan></text></g>
<text class="m" transform="translate(1,456) rotate(-90)" font-size="16" text-anchor="middle" textLength="99" lengthAdjust="spacingAndGlyphs">Height (km)</text>
<rect x="836.5" y="98" width="14" height="35.8" fill="#ff0000"/>
<rect x="836.5" y="133.6" width="14" height="35.8" fill="#ff6464"/>
<rect x="836.5" y="169.1" width="14" height="35.8" fill="#ffe178"/>
<rect x="836.5" y="204.6" width="14" height="35.8" fill="#ffff32"/>
<rect x="836.5" y="240.2" width="14" height="35.8" fill="#ffff6e"/>
<rect x="836.5" y="275.8" width="14" height="35.8" fill="#ffffaa"/>
<rect x="836.5" y="311.3" width="14" height="35.8" fill="#c0c0a8"/>
<rect x="836.5" y="346.8" width="14" height="35.8" fill="#aaaaaa"/>
<rect x="836.5" y="382.4" width="14" height="35.8" fill="#e8e8e8"/>
<rect x="836.5" y="417.9" width="14" height="35.8" fill="#ffffff"/>
<rect x="836.5" y="453.5" width="14" height="35.8" fill="#ffffff"/>
<rect x="836.5" y="489" width="14" height="35.8" fill="#f0fff0"/>
<rect x="836.5" y="524.6" width="14" height="35.8" fill="#d2ffd2"/>
<rect x="836.5" y="560.1" width="14" height="35.8" fill="#aaffaa"/>
<rect x="836.5" y="595.7" width="14" height="35.8" fill="#64f064"/>
<rect x="836.5" y="631.2" width="14" height="35.8" fill="#00ff00"/>
<rect x="836.5" y="666.8" width="14" height="35.8" fill="#00e164"/>
<rect x="836.5" y="702.3" width="14" height="35.8" fill="#00c8c8"/>
<rect x="836.5" y="737.9" width="14" height="35.8" fill="#0064e6"/>
<rect x="836.5" y="773.4" width="14" height="35.8" fill="#0000ff"/>
<path d="M836.5 134.5H850.5M836.5 169.5H850.5M836.5 205.5H850.5M836.5 240.5H850.5M836.5 276.5H850.5M836.5 311.5H850.5M836.5 347.5H850.5M836.5 382.5H850.5M836.5 418.5H850.5M836.5 454.5H850.5M836.5 489.5H850.5M836.5 525.5H850.5M836.5 560.5H850.5M836.5 596.5H850.5M836.5 631.5H850.5M836.5 667.5H850.5M836.5 702.5H850.5M836.5 738.5H850.5M836.5 773.5H850.5" stroke="#000" stroke-width="1"/>
<rect x="836.5" y="98.5" width="14" height="711" fill="none" stroke="#000" stroke-width="1"/>
<g transform="scale(0.85,1)"><text class="t" x="1013.88 1023.41" y="138.8" font-size="14" text-anchor="middle">54</text></g>
<g transform="scale(0.85,1)"><text class="t" x="1013.88 1023.41" y="174.3" font-size="14" text-anchor="middle">48</text></g>
<g transform="scale(0.85,1)"><text class="t" x="1013.88 1023.41" y="209.8" font-size="14" text-anchor="middle">42</text></g>
<g transform="scale(0.85,1)"><text class="t" x="1013.88 1023.41" y="245.4" font-size="14" text-anchor="middle">36</text></g>
<g transform="scale(0.85,1)"><text class="t" x="1013.88 1023.41" y="280.9" font-size="14" text-anchor="middle">30</text></g>
<g transform="scale(0.85,1)"><text class="t" x="1013.88 1023.41" y="316.5" font-size="14" text-anchor="middle">24</text></g>
<g transform="scale(0.85,1)"><text class="t" x="1013.88 1023.41" y="352" font-size="14" text-anchor="middle">18</text></g>
<g transform="scale(0.85,1)"><text class="t" x="1013.88 1023.41" y="387.6" font-size="14" text-anchor="middle">12</text></g>
<g transform="scale(0.85,1)"><text class="t" x="1013.88" y="423.1" font-size="14" text-anchor="middle">6</text></g>
<g transform="scale(0.85,1)"><text class="t" x="1013.88" y="458.7" font-size="14" text-anchor="middle">0</text></g>
<g transform="scale(0.85,1)"><text class="t" x="1013.88 1023.41" y="494.2" font-size="14" text-anchor="middle">−6</text></g>
<g transform="scale(0.85,1)"><text class="t" x="1013.88 1023.41 1032.94" y="529.8" font-size="14" text-anchor="middle">−12</text></g>
<g transform="scale(0.85,1)"><text class="t" x="1013.88 1023.41 1032.94" y="565.4" font-size="14" text-anchor="middle">−18</text></g>
<g transform="scale(0.85,1)"><text class="t" x="1013.88 1023.41 1032.94" y="600.9" font-size="14" text-anchor="middle">−24</text></g>
<g transform="scale(0.85,1)"><text class="t" x="1013.88 1023.41 1032.94" y="636.5" font-size="14" text-anchor="middle">−30</text></g>
<g transform="scale(0.85,1)"><text class="t" x="1013.88 1023.41 1032.94" y="672" font-size="14" text-anchor="middle">−36</text></g>
<g transform="scale(0.85,1)"><text class="t" x="1013.88 1023.41 1032.94" y="707.5" font-size="14" text-anchor="middle">−42</text></g>
<g transform="scale(0.85,1)"><text class="t" x="1013.88 1023.41 1032.94" y="743.1" font-size="14" text-anchor="middle">−48</text></g>
<g transform="scale(0.85,1)"><text class="t" x="1013.88 1023.41 1032.94" y="778.6" font-size="14" text-anchor="middle">−54</text></g>
<g transform="scale(0.9,1)"><text class="t" x="957.56" y="104.2" font-size="11.6" text-anchor="middle"><tspan font-size="10.2">m</tspan></text><text class="t" x="975.00" y="104.2" font-size="11.6" text-anchor="middle"><tspan font-size="10.2">s</tspan></text></g>
<g transform="scale(0.85,1)"><text class="t" x="1040.59 1048.24" y="97.5" font-size="11" text-anchor="middle">−1</text></g>
<text class="s" x="156.4" y="878.8" font-size="12.5" textLength="75.5" lengthAdjust="spacingAndGlyphs">CONTOURS:</text>
<text class="s" x="242.8" y="878.8" font-size="12.5" textLength="57.6" lengthAdjust="spacingAndGlyphs">UNITS=K</text>
<text class="s" x="312.8" y="878.8" font-size="12.5" textLength="39" lengthAdjust="spacingAndGlyphs">LOW=</text>
<text class="s" x="361.4" y="878.8" font-size="12.5" textLength="46" lengthAdjust="spacingAndGlyphs">250.00</text>
<text class="s" x="444.5" y="878.8" font-size="12.5" textLength="43" lengthAdjust="spacingAndGlyphs">HIGH=</text>
<text class="s" x="500.3" y="878.8" font-size="12.5" textLength="42.7" lengthAdjust="spacingAndGlyphs">408.00</text>
<text class="s" x="582" y="878.8" font-size="12.5" textLength="72" lengthAdjust="spacingAndGlyphs">INTERVAL=</text>
<text class="s" x="673.3" y="878.8" font-size="12.5" textLength="43.7" lengthAdjust="spacingAndGlyphs">2.0000</text>
<text class="s" x="138.8" y="892.8" font-size="12.5" textLength="75.5" lengthAdjust="spacingAndGlyphs">CONTOURS:</text>
<text class="s" x="225.3" y="892.8" font-size="12.5" textLength="61" lengthAdjust="spacingAndGlyphs">UNITS=m</text>
<text class="s" x="294" y="892.8" font-size="12.5" textLength="6.5" lengthAdjust="spacingAndGlyphs">s</text>
<text class="s" x="301.3" y="887.5" font-size="9" textLength="10.5" lengthAdjust="spacingAndGlyphs">&#8722;1</text>
<text class="s" x="324.4" y="892.8" font-size="12.5" textLength="39" lengthAdjust="spacingAndGlyphs">LOW=</text>
<text class="s" x="369.2" y="892.8" font-size="12.5" textLength="52.5" lengthAdjust="spacingAndGlyphs">&#8722;54.000</text>
<text class="s" x="461.4" y="892.8" font-size="12.5" textLength="43" lengthAdjust="spacingAndGlyphs">HIGH=</text>
<text class="s" x="515.8" y="892.8" font-size="12.5" textLength="42.8" lengthAdjust="spacingAndGlyphs">54.000</text>
<text class="s" x="599.4" y="892.8" font-size="12.5" textLength="72" lengthAdjust="spacingAndGlyphs">INTERVAL=</text>
<text class="s" x="689" y="892.8" font-size="12.5" textLength="42.7" lengthAdjust="spacingAndGlyphs">6.0000</text>
</svg></body></html>
